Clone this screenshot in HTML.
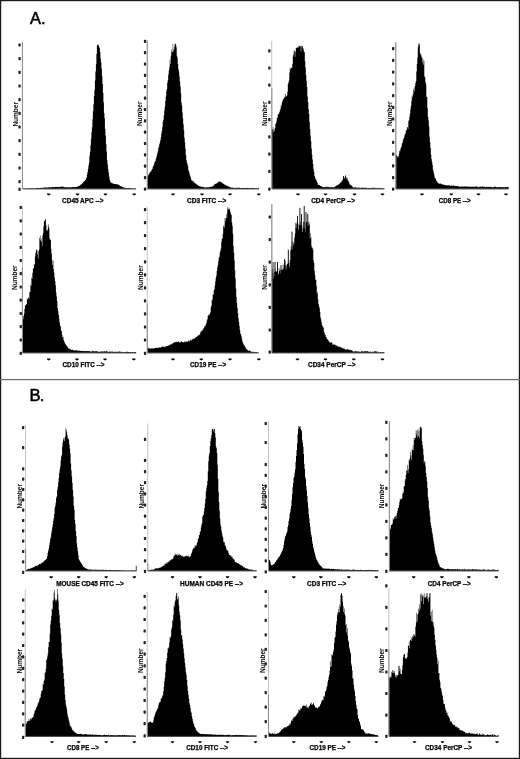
<!DOCTYPE html><html><head><meta charset="utf-8"><style>html,body{margin:0;padding:0;background:#fff;overflow:hidden}svg{display:block}text{font-family:"Liberation Sans",sans-serif}</style></head><body>
<svg width="520" height="759" viewBox="0 0 520 759" style="will-change:transform;filter:blur(0.3px)">
<rect x="0" y="0" width="520" height="759" fill="#fff"/>
<rect x="0.6" y="0.6" width="518.8" height="757.8" fill="none" stroke="#1a1a1a" stroke-width="1.2"/>
<rect x="0" y="379" width="520" height="1.2" fill="#6a6a6a"/>
<text x="30.1" y="23.7" font-size="16.4" fill="#000" stroke="#000" stroke-width="0.55">A.</text>
<text x="29.6" y="400.8" font-size="16.6" fill="#000" stroke="#000" stroke-width="0.55" letter-spacing="-1">B.</text>
<path d="M22.4,188.8L22.4,188.5L22.9,188.5L22.9,188.5L23.4,188.5L23.4,188.5L23.9,188.5L23.9,188.5L24.4,188.5L24.4,188.5L24.9,188.5L24.9,188.5L25.4,188.5L25.4,188.4L25.9,188.4L25.9,188.5L26.4,188.5L26.4,188.2L26.9,188.2L26.9,188.3L27.4,188.3L27.4,188.5L27.9,188.5L27.9,188.4L28.4,188.4L28.4,188.2L28.9,188.2L28.9,188.5L29.4,188.5L29.4,188.4L29.9,188.4L29.9,188.2L30.4,188.2L30.4,188.1L30.9,188.1L30.9,188.2L31.4,188.2L31.4,188.3L31.9,188.3L31.9,188.2L32.4,188.2L32.4,188.3L32.9,188.3L32.9,188.4L33.4,188.4L33.4,188.3L33.9,188.3L33.9,188.2L34.4,188.2L34.4,188.2L34.9,188.2L34.9,188.2L35.4,188.2L35.4,188.2L35.9,188.2L35.9,188.1L36.4,188.1L36.4,188.2L36.9,188.2L36.9,188.0L37.4,188.0L37.4,187.8L37.9,187.8L37.9,188.0L38.4,188.0L38.4,188.0L38.9,188.0L38.9,188.0L39.4,188.0L39.4,187.9L39.9,187.9L39.9,187.8L40.4,187.8L40.4,188.1L40.9,188.1L40.9,187.8L41.4,187.8L41.4,187.7L41.9,187.7L41.9,187.9L42.4,187.9L42.4,187.7L42.9,187.7L42.9,187.6L43.4,187.6L43.4,187.8L43.9,187.8L43.9,187.6L44.4,187.6L44.4,187.4L44.9,187.4L44.9,187.5L45.4,187.5L45.4,187.6L45.9,187.6L45.9,187.6L46.4,187.6L46.4,187.5L46.9,187.5L46.9,187.4L47.4,187.4L47.4,187.7L47.9,187.7L47.9,187.3L48.4,187.3L48.4,187.4L48.9,187.4L48.9,187.3L49.4,187.3L49.4,187.3L49.9,187.3L49.9,187.3L50.4,187.3L50.4,187.4L50.9,187.4L50.9,187.0L51.4,187.0L51.4,187.3L51.9,187.3L51.9,187.2L52.4,187.2L52.4,186.8L52.9,186.8L52.9,187.0L53.4,187.0L53.4,187.2L53.9,187.2L53.9,187.0L54.4,187.0L54.4,187.3L54.9,187.3L54.9,186.9L55.4,186.9L55.4,186.7L55.9,186.7L55.9,186.8L56.4,186.8L56.4,186.9L56.9,186.9L56.9,186.9L57.4,186.9L57.4,187.1L57.9,187.1L57.9,186.8L58.4,186.8L58.4,187.2L58.9,187.2L58.9,186.8L59.4,186.8L59.4,186.9L59.9,186.9L59.9,187.0L60.4,187.0L60.4,187.1L60.9,187.1L60.9,186.5L61.4,186.5L61.4,186.8L61.9,186.8L61.9,186.5L62.4,186.5L62.4,186.8L62.9,186.8L62.9,186.6L63.4,186.6L63.4,187.0L63.9,187.0L63.9,187.0L64.4,187.0L64.4,187.2L64.9,187.2L64.9,187.2L65.4,187.2L65.4,187.2L65.9,187.2L65.9,187.3L66.4,187.3L66.4,187.2L66.9,187.2L66.9,187.2L67.4,187.2L67.4,187.2L67.9,187.2L67.9,187.5L68.4,187.5L68.4,187.3L68.9,187.3L68.9,187.5L69.4,187.5L69.4,187.3L69.9,187.3L69.9,187.3L70.4,187.3L70.4,187.1L70.9,187.1L70.9,187.2L71.4,187.2L71.4,187.5L71.9,187.5L71.9,187.1L72.4,187.1L72.4,187.3L72.9,187.3L72.9,187.1L73.4,187.1L73.4,187.0L73.9,187.0L73.9,187.3L74.4,187.3L74.4,187.1L74.9,187.1L74.9,187.2L75.4,187.2L75.4,187.0L75.9,187.0L75.9,186.9L76.4,186.9L76.4,186.9L76.9,186.9L76.9,186.4L77.4,186.4L77.4,186.7L77.9,186.7L77.9,186.2L78.4,186.2L78.4,186.0L78.9,186.0L78.9,185.7L79.4,185.7L79.4,185.4L79.9,185.4L79.9,185.2L80.4,185.2L80.4,184.8L80.9,184.8L80.9,184.6L81.4,184.6L81.4,184.0L81.9,184.0L81.9,183.8L82.4,183.8L82.4,183.1L82.9,183.1L82.9,182.5L83.4,182.5L83.4,181.8L83.9,181.8L83.9,181.2L84.4,181.2L84.4,181.0L84.9,181.0L84.9,180.3L85.4,180.3L85.4,179.7L85.9,179.7L85.9,178.7L86.4,178.7L86.4,177.4L86.9,177.4L86.9,174.4L87.4,174.4L87.4,172.1L87.9,172.1L87.9,168.8L88.4,168.8L88.4,165.4L88.9,165.4L88.9,162.8L89.4,162.8L89.4,155.7L89.9,155.7L89.9,151.7L90.4,151.7L90.4,145.2L90.9,145.2L90.9,138.7L91.4,138.7L91.4,132.0L91.9,132.0L91.9,127.3L92.4,127.3L92.4,119.3L92.9,119.3L92.9,111.1L93.4,111.1L93.4,104.0L93.9,104.0L93.9,95.9L94.4,95.9L94.4,89.8L94.9,89.8L94.9,80.6L95.4,80.6L95.4,71.5L95.9,71.5L95.9,64.2L96.4,64.2L96.4,53.7L96.9,53.7L96.9,45.2L97.4,45.2L97.4,44.6L97.9,44.6L97.9,45.7L98.4,45.7L98.4,44.4L98.9,44.4L98.9,46.7L99.4,46.7L99.4,48.0L99.9,48.0L99.9,51.9L100.4,51.9L100.4,58.4L100.9,58.4L100.9,62.6L101.4,62.6L101.4,68.5L101.9,68.5L101.9,76.2L102.4,76.2L102.4,84.1L102.9,84.1L102.9,93.1L103.4,93.1L103.4,102.3L103.9,102.3L103.9,112.9L104.4,112.9L104.4,118.3L104.9,118.3L104.9,128.8L105.4,128.8L105.4,135.4L105.9,135.4L105.9,143.7L106.4,143.7L106.4,151.4L106.9,151.4L106.9,159.7L107.4,159.7L107.4,164.6L107.9,164.6L107.9,169.2L108.4,169.2L108.4,172.5L108.9,172.5L108.9,176.3L109.4,176.3L109.4,179.2L109.9,179.2L109.9,180.9L110.4,180.9L110.4,182.3L110.9,182.3L110.9,182.7L111.4,182.7L111.4,182.8L111.9,182.8L111.9,183.0L112.4,183.0L112.4,183.4L112.9,183.4L112.9,183.4L113.4,183.4L113.4,183.8L113.9,183.8L113.9,184.0L114.4,184.0L114.4,184.0L114.9,184.0L114.9,184.1L115.4,184.1L115.4,184.0L115.9,184.0L115.9,184.2L116.4,184.2L116.4,184.2L116.9,184.2L116.9,184.3L117.4,184.3L117.4,184.6L117.9,184.6L117.9,184.5L118.4,184.5L118.4,184.8L118.9,184.8L118.9,185.0L119.4,185.0L119.4,185.6L119.9,185.6L119.9,185.9L120.4,185.9L120.4,186.2L120.9,186.2L120.9,186.2L121.4,186.2L121.4,186.6L121.9,186.6L121.9,186.9L122.4,186.9L122.4,187.2L122.9,187.2L122.9,187.1L123.4,187.1L123.4,187.7L123.9,187.7L123.9,187.8L124.4,187.8L124.4,187.6L124.9,187.6L124.9,187.8L125.4,187.8L125.4,188.0L125.9,188.0L125.9,188.0L126.4,188.0L126.4,188.0L126.9,188.0L126.9,188.1L127.4,188.1L127.4,188.0L127.9,188.0L127.9,187.9L128.4,187.9L128.4,187.8L128.9,187.8L128.9,188.0L129.4,188.0L129.4,188.2L129.9,188.2L129.9,188.1L130.4,188.1L130.4,187.9L130.9,187.9L130.9,188.5L131.4,188.5L131.4,188.3L131.9,188.3L131.9,188.0L132.4,188.0L132.4,188.2L132.9,188.2L132.9,188.4L133.4,188.4L133.4,188.4L133.9,188.4L133.9,188.5L134.4,188.5L134.4,188.4L134.9,188.4L134.9,188.4L135.4,188.4L135.4,188.3L135.9,188.3L135.9,188.5L136.4,188.5L136.0,188.8Z" fill="#000"/>
<rect x="22.4" y="188.5" width="113.6" height="0.9" fill="#333"/>
<rect x="22.0" y="42.0" width="0.8" height="146.8" fill="#b4b4b4"/>
<rect x="21.9" y="42.0" width="0.9" height="146.8" fill="#858585"/>
<rect x="18.4" y="43.4" width="2.3" height="3.2" rx="0.7" fill="#222"/>
<rect x="18.4" y="57.1" width="2.3" height="3.2" rx="0.7" fill="#222"/>
<rect x="18.4" y="70.7" width="2.3" height="3.2" rx="0.7" fill="#222"/>
<rect x="18.4" y="84.4" width="2.3" height="3.2" rx="0.7" fill="#222"/>
<rect x="18.4" y="98.1" width="2.3" height="3.2" rx="0.7" fill="#222"/>
<rect x="18.4" y="111.8" width="2.3" height="3.2" rx="0.7" fill="#222"/>
<rect x="18.4" y="125.4" width="2.3" height="3.2" rx="0.7" fill="#222"/>
<rect x="18.4" y="139.1" width="2.3" height="3.2" rx="0.7" fill="#222"/>
<rect x="18.4" y="152.8" width="2.3" height="3.2" rx="0.7" fill="#222"/>
<rect x="18.4" y="166.4" width="2.3" height="3.2" rx="0.7" fill="#222"/>
<rect x="18.4" y="180.1" width="2.3" height="3.2" rx="0.7" fill="#222"/>
<rect x="18.4" y="187.8" width="2.3" height="3.2" rx="0.7" fill="#222"/>
<path d="M47.0,193.5h3.4v0.9l-1.7,1.2l-1.7,-1.2z" fill="#000"/>
<path d="M75.8,193.5h3.4v0.9l-1.7,1.2l-1.7,-1.2z" fill="#000"/>
<path d="M103.7,193.5h3.4v0.9l-1.7,1.2l-1.7,-1.2z" fill="#000"/>
<path d="M132.5,193.5h3.4v0.9l-1.7,1.2l-1.7,-1.2z" fill="#000"/>
<text x="62.1" y="203.2" font-size="6.6" font-weight="bold" fill="#000" stroke="#000" stroke-width="0.25" textLength="41.4" lengthAdjust="spacingAndGlyphs">CD45 APC --&gt;</text>
<text transform="translate(17.6,114.3) rotate(-90)" x="0" y="0" font-size="7.8" font-weight="bold" fill="#000" text-anchor="middle" textLength="24.6" lengthAdjust="spacingAndGlyphs">Number</text>
<path d="M147.2,188.8L147.2,176.4L147.7,176.4L147.7,175.9L148.2,175.9L148.2,174.9L148.7,174.9L148.7,173.9L149.2,173.9L149.2,173.4L149.7,173.4L149.7,172.3L150.2,172.3L150.2,171.8L150.7,171.8L150.7,171.5L151.2,171.5L151.2,170.4L151.7,170.4L151.7,169.4L152.2,169.4L152.2,168.7L152.7,168.7L152.7,166.8L153.2,166.8L153.2,166.1L153.7,166.1L153.7,164.5L154.2,164.5L154.2,162.7L154.7,162.7L154.7,161.5L155.2,161.5L155.2,161.1L155.7,161.1L155.7,158.8L156.2,158.8L156.2,157.3L156.7,157.3L156.7,155.3L157.2,155.3L157.2,153.1L157.7,153.1L157.7,151.2L158.2,151.2L158.2,148.0L158.7,148.0L158.7,146.6L159.2,146.6L159.2,144.2L159.7,144.2L159.7,142.6L160.2,142.6L160.2,140.3L160.7,140.3L160.7,137.4L161.2,137.4L161.2,133.4L161.7,133.4L161.7,131.0L162.2,131.0L162.2,126.9L162.7,126.9L162.7,122.1L163.2,122.1L163.2,119.8L163.7,119.8L163.7,115.6L164.2,115.6L164.2,110.6L164.7,110.6L164.7,106.4L165.2,106.4L165.2,100.9L165.7,100.9L165.7,96.5L166.2,96.5L166.2,91.3L166.7,91.3L166.7,89.0L167.2,89.0L167.2,82.4L167.7,82.4L167.7,80.0L168.2,80.0L168.2,74.6L168.7,74.6L168.7,70.4L169.2,70.4L169.2,67.3L169.7,67.3L169.7,59.7L170.2,59.7L170.2,64.0L170.7,64.0L170.7,56.3L171.2,56.3L171.2,49.4L171.7,49.4L171.7,52.3L172.2,52.3L172.2,51.9L172.7,51.9L172.7,43.8L173.2,43.8L173.2,51.0L173.7,51.0L173.7,49.2L174.2,49.2L174.2,47.0L174.7,47.0L174.7,43.8L175.2,43.8L175.2,43.8L175.7,43.8L175.7,44.7L176.2,44.7L176.2,47.3L176.7,47.3L176.7,55.7L177.2,55.7L177.2,57.5L177.7,57.5L177.7,64.0L178.2,64.0L178.2,69.1L178.7,69.1L178.7,71.6L179.2,71.6L179.2,76.4L179.7,76.4L179.7,81.6L180.2,81.6L180.2,86.6L180.7,86.6L180.7,93.2L181.2,93.2L181.2,102.4L181.7,102.4L181.7,105.6L182.2,105.6L182.2,112.5L182.7,112.5L182.7,118.4L183.2,118.4L183.2,124.3L183.7,124.3L183.7,130.2L184.2,130.2L184.2,137.7L184.7,137.7L184.7,142.6L185.2,142.6L185.2,148.6L185.7,148.6L185.7,155.0L186.2,155.0L186.2,160.1L186.7,160.1L186.7,162.6L187.2,162.6L187.2,163.9L187.7,163.9L187.7,166.3L188.2,166.3L188.2,170.0L188.7,170.0L188.7,171.3L189.2,171.3L189.2,173.2L189.7,173.2L189.7,175.3L190.2,175.3L190.2,176.4L190.7,176.4L190.7,178.2L191.2,178.2L191.2,180.4L191.7,180.4L191.7,180.1L192.2,180.1L192.2,180.9L192.7,180.9L192.7,181.4L193.2,181.4L193.2,181.1L193.7,181.1L193.7,182.3L194.2,182.3L194.2,182.7L194.7,182.7L194.7,182.9L195.2,182.9L195.2,183.6L195.7,183.6L195.7,183.7L196.2,183.7L196.2,184.2L196.7,184.2L196.7,184.8L197.2,184.8L197.2,184.8L197.7,184.8L197.7,185.1L198.2,185.1L198.2,185.9L198.7,185.9L198.7,186.1L199.2,186.1L199.2,186.1L199.7,186.1L199.7,186.7L200.2,186.7L200.2,186.5L200.7,186.5L200.7,186.2L201.2,186.2L201.2,187.0L201.7,187.0L201.7,186.9L202.2,186.9L202.2,187.3L202.7,187.3L202.7,186.5L203.2,186.5L203.2,187.0L203.7,187.0L203.7,187.1L204.2,187.1L204.2,187.4L204.7,187.4L204.7,187.7L205.2,187.7L205.2,187.5L205.7,187.5L205.7,187.1L206.2,187.1L206.2,187.4L206.7,187.4L206.7,187.3L207.2,187.3L207.2,187.2L207.7,187.2L207.7,187.2L208.2,187.2L208.2,187.2L208.7,187.2L208.7,187.3L209.2,187.3L209.2,187.3L209.7,187.3L209.7,187.0L210.2,187.0L210.2,187.1L210.7,187.1L210.7,187.1L211.2,187.1L211.2,186.8L211.7,186.8L211.7,186.3L212.2,186.3L212.2,186.4L212.7,186.4L212.7,186.2L213.2,186.2L213.2,185.7L213.7,185.7L213.7,185.3L214.2,185.3L214.2,184.6L214.7,184.6L214.7,184.0L215.2,184.0L215.2,184.1L215.7,184.1L215.7,183.6L216.2,183.6L216.2,183.7L216.7,183.7L216.7,183.0L217.2,183.0L217.2,183.0L217.7,183.0L217.7,182.0L218.2,182.0L218.2,181.7L218.7,181.7L218.7,181.5L219.2,181.5L219.2,181.7L219.7,181.7L219.7,181.6L220.2,181.6L220.2,181.7L220.7,181.7L220.7,182.3L221.2,182.3L221.2,182.0L221.7,182.0L221.7,182.8L222.2,182.8L222.2,183.3L222.7,183.3L222.7,183.5L223.2,183.5L223.2,183.8L223.7,183.8L223.7,184.3L224.2,184.3L224.2,184.7L224.7,184.7L224.7,184.3L225.2,184.3L225.2,185.0L225.7,185.0L225.7,185.2L226.2,185.2L226.2,185.8L226.7,185.8L226.7,185.7L227.2,185.7L227.2,185.8L227.7,185.8L227.7,186.5L228.2,186.5L228.2,186.2L228.7,186.2L228.7,186.6L229.2,186.6L229.2,187.3L229.7,187.3L229.7,187.0L230.2,187.0L230.2,187.4L230.7,187.4L230.7,187.0L231.2,187.0L231.2,188.0L231.7,188.0L231.7,187.6L232.2,187.6L232.2,187.8L232.7,187.8L232.7,187.3L233.2,187.3L233.2,188.0L233.7,188.0L233.7,187.9L234.2,187.9L234.2,187.9L234.7,187.9L234.7,187.9L235.2,187.9L235.2,187.8L235.7,187.8L235.7,187.7L236.2,187.7L236.2,188.3L236.7,188.3L236.7,187.4L237.2,187.4L237.2,187.8L237.7,187.8L237.7,188.0L238.2,188.0L238.2,187.8L238.7,187.8L238.7,187.6L239.2,187.6L239.2,187.8L239.7,187.8L239.7,188.3L240.2,188.3L240.2,187.9L240.7,187.9L240.7,187.9L241.2,187.9L241.2,188.1L241.7,188.1L241.7,188.0L242.2,188.0L242.2,188.0L242.7,188.0L242.7,187.8L243.2,187.8L243.2,187.9L243.7,187.9L243.7,188.1L244.2,188.1L244.2,187.9L244.7,187.9L244.7,187.8L245.2,187.8L245.2,188.0L245.7,188.0L245.7,188.1L246.2,188.1L246.2,188.1L246.7,188.1L246.7,187.9L247.2,187.9L247.2,187.9L247.7,187.9L247.7,187.5L248.2,187.5L248.2,188.5L248.7,188.5L248.7,188.0L249.2,188.0L249.2,187.9L249.7,187.9L249.7,187.9L250.2,187.9L250.2,188.0L250.7,188.0L250.7,188.2L251.2,188.2L251.2,188.1L251.7,188.1L251.7,188.0L252.2,188.0L252.2,188.3L252.7,188.3L252.7,187.7L253.2,187.7L253.2,188.1L253.7,188.1L253.7,188.0L254.2,188.0L254.2,188.2L254.7,188.2L254.7,188.2L255.2,188.2L255.2,188.3L255.7,188.3L255.7,188.2L256.2,188.2L256.2,188.3L256.7,188.3L256.7,188.3L257.2,188.3L257.2,188.3L257.7,188.3L257.7,188.3L258.2,188.3L258.2,187.8L258.7,187.8L258.7,188.2L259.2,188.2L259.0,188.8Z" fill="#000"/>
<rect x="147.2" y="188.5" width="111.8" height="0.9" fill="#333"/>
<rect x="146.8" y="40.5" width="0.8" height="148.3" fill="#b4b4b4"/>
<rect x="146.8" y="40.5" width="0.9" height="148.3" fill="#858585"/>
<rect x="143.9" y="39.7" width="2.3" height="3.2" rx="0.7" fill="#222"/>
<rect x="143.9" y="51.1" width="2.3" height="3.2" rx="0.7" fill="#222"/>
<rect x="143.9" y="62.4" width="2.3" height="3.2" rx="0.7" fill="#222"/>
<rect x="143.9" y="73.8" width="2.3" height="3.2" rx="0.7" fill="#222"/>
<rect x="143.9" y="85.1" width="2.3" height="3.2" rx="0.7" fill="#222"/>
<rect x="143.9" y="96.5" width="2.3" height="3.2" rx="0.7" fill="#222"/>
<rect x="143.9" y="107.9" width="2.3" height="3.2" rx="0.7" fill="#222"/>
<rect x="143.9" y="119.2" width="2.3" height="3.2" rx="0.7" fill="#222"/>
<rect x="143.9" y="130.6" width="2.3" height="3.2" rx="0.7" fill="#222"/>
<rect x="143.9" y="141.9" width="2.3" height="3.2" rx="0.7" fill="#222"/>
<rect x="143.9" y="153.3" width="2.3" height="3.2" rx="0.7" fill="#222"/>
<rect x="143.9" y="164.6" width="2.3" height="3.2" rx="0.7" fill="#222"/>
<rect x="143.9" y="176.0" width="2.3" height="3.2" rx="0.7" fill="#222"/>
<rect x="143.9" y="187.6" width="2.3" height="3.2" rx="0.7" fill="#222"/>
<path d="M171.3,193.5h3.4v0.9l-1.7,1.2l-1.7,-1.2z" fill="#000"/>
<path d="M200.3,193.5h3.4v0.9l-1.7,1.2l-1.7,-1.2z" fill="#000"/>
<path d="M228.3,193.5h3.4v0.9l-1.7,1.2l-1.7,-1.2z" fill="#000"/>
<path d="M257.1,193.5h3.4v0.9l-1.7,1.2l-1.7,-1.2z" fill="#000"/>
<text x="187.0" y="203.2" font-size="6.6" font-weight="bold" fill="#000" stroke="#000" stroke-width="0.25" textLength="39.2" lengthAdjust="spacingAndGlyphs">CD3 FITC --&gt;</text>
<text transform="translate(142.4,113.8) rotate(-90)" x="0" y="0" font-size="7.8" font-weight="bold" fill="#000" text-anchor="middle" textLength="24.6" lengthAdjust="spacingAndGlyphs">Number</text>
<path d="M271.8,188.8L271.8,129.4L272.3,129.4L272.3,129.3L272.8,129.3L272.8,127.0L273.3,127.0L273.3,131.9L273.8,131.9L273.8,129.1L274.3,129.1L274.3,131.1L274.8,131.1L274.8,128.0L275.3,128.0L275.3,124.1L275.8,124.1L275.8,123.3L276.3,123.3L276.3,121.3L276.8,121.3L276.8,118.0L277.3,118.0L277.3,117.6L277.8,117.6L277.8,114.5L278.3,114.5L278.3,113.9L278.8,113.9L278.8,113.4L279.3,113.4L279.3,111.9L279.8,111.9L279.8,109.9L280.3,109.9L280.3,108.7L280.8,108.7L280.8,104.7L281.3,104.7L281.3,106.3L281.8,106.3L281.8,102.4L282.3,102.4L282.3,100.7L282.8,100.7L282.8,99.6L283.3,99.6L283.3,98.8L283.8,98.8L283.8,98.5L284.3,98.5L284.3,97.2L284.8,97.2L284.8,96.4L285.3,96.4L285.3,93.8L285.8,93.8L285.8,96.9L286.3,96.9L286.3,96.1L286.8,96.1L286.8,95.4L287.3,95.4L287.3,91.7L287.8,91.7L287.8,84.2L288.3,84.2L288.3,82.6L288.8,82.6L288.8,80.4L289.3,80.4L289.3,72.8L289.8,72.8L289.8,67.8L290.3,67.8L290.3,69.6L290.8,69.6L290.8,68.2L291.3,68.2L291.3,68.0L291.8,68.0L291.8,67.5L292.3,67.5L292.3,64.0L292.8,64.0L292.8,56.5L293.3,56.5L293.3,54.3L293.8,54.3L293.8,50.4L294.3,50.4L294.3,51.0L294.8,51.0L294.8,56.8L295.3,56.8L295.3,51.7L295.8,51.7L295.8,48.2L296.3,48.2L296.3,48.1L296.8,48.1L296.8,47.6L297.3,47.6L297.3,47.4L297.8,47.4L297.8,46.7L298.3,46.7L298.3,47.5L298.8,47.5L298.8,45.7L299.3,45.7L299.3,46.2L299.8,46.2L299.8,45.7L300.3,45.7L300.3,46.5L300.8,46.5L300.8,51.4L301.3,51.4L301.3,45.7L301.8,45.7L301.8,46.4L302.3,46.4L302.3,46.0L302.8,46.0L302.8,47.9L303.3,47.9L303.3,49.6L303.8,49.6L303.8,52.5L304.3,52.5L304.3,51.8L304.8,51.8L304.8,61.3L305.3,61.3L305.3,67.6L305.8,67.6L305.8,75.1L306.3,75.1L306.3,81.0L306.8,81.0L306.8,87.0L307.3,87.0L307.3,96.6L307.8,96.6L307.8,102.0L308.3,102.0L308.3,108.9L308.8,108.9L308.8,114.0L309.3,114.0L309.3,122.0L309.8,122.0L309.8,128.9L310.3,128.9L310.3,135.5L310.8,135.5L310.8,141.3L311.3,141.3L311.3,148.5L311.8,148.5L311.8,154.5L312.3,154.5L312.3,159.6L312.8,159.6L312.8,164.1L313.3,164.1L313.3,168.9L313.8,168.9L313.8,171.9L314.3,171.9L314.3,176.1L314.8,176.1L314.8,177.1L315.3,177.1L315.3,178.9L315.8,178.9L315.8,179.4L316.3,179.4L316.3,180.7L316.8,180.7L316.8,181.8L317.3,181.8L317.3,182.9L317.8,182.9L317.8,184.9L318.3,184.9L318.3,184.7L318.8,184.7L318.8,185.1L319.3,185.1L319.3,185.1L319.8,185.1L319.8,185.7L320.3,185.7L320.3,186.0L320.8,186.0L320.8,185.9L321.3,185.9L321.3,186.4L321.8,186.4L321.8,186.9L322.3,186.9L322.3,186.8L322.8,186.8L322.8,187.1L323.3,187.1L323.3,187.2L323.8,187.2L323.8,187.1L324.3,187.1L324.3,187.6L324.8,187.6L324.8,186.7L325.3,186.7L325.3,187.1L325.8,187.1L325.8,187.3L326.3,187.3L326.3,187.1L326.8,187.1L326.8,186.5L327.3,186.5L327.3,187.3L327.8,187.3L327.8,187.0L328.3,187.0L328.3,187.3L328.8,187.3L328.8,186.6L329.3,186.6L329.3,187.4L329.8,187.4L329.8,187.0L330.3,187.0L330.3,187.4L330.8,187.4L330.8,187.6L331.3,187.6L331.3,186.8L331.8,186.8L331.8,187.3L332.3,187.3L332.3,187.0L332.8,187.0L332.8,187.4L333.3,187.4L333.3,187.3L333.8,187.3L333.8,187.2L334.3,187.2L334.3,187.3L334.8,187.3L334.8,186.5L335.3,186.5L335.3,186.3L335.8,186.3L335.8,185.9L336.3,185.9L336.3,185.2L336.8,185.2L336.8,185.8L337.3,185.8L337.3,184.9L337.8,184.9L337.8,185.0L338.3,185.0L338.3,184.4L338.8,184.4L338.8,183.9L339.3,183.9L339.3,183.7L339.8,183.7L339.8,183.1L340.3,183.1L340.3,182.8L340.8,182.8L340.8,182.3L341.3,182.3L341.3,181.5L341.8,181.5L341.8,180.9L342.3,180.9L342.3,180.1L342.8,180.1L342.8,179.1L343.3,179.1L343.3,178.4L343.8,178.4L343.8,178.3L344.3,178.3L344.3,177.3L344.8,177.3L344.8,179.0L345.3,179.0L345.3,178.5L345.8,178.5L345.8,178.6L346.3,178.6L346.3,178.8L346.8,178.8L346.8,180.0L347.3,180.0L347.3,180.2L347.8,180.2L347.8,180.2L348.3,180.2L348.3,181.7L348.8,181.7L348.8,182.0L349.3,182.0L349.3,183.9L349.8,183.9L349.8,184.8L350.3,184.8L350.3,185.0L350.8,185.0L350.8,185.3L351.3,185.3L351.3,185.6L351.8,185.6L351.8,186.3L352.3,186.3L352.3,186.5L352.8,186.5L352.8,187.2L353.3,187.2L353.3,187.8L353.8,187.8L353.8,187.7L354.3,187.7L354.3,187.3L354.8,187.3L354.8,187.1L355.3,187.1L355.3,187.6L355.8,187.6L355.8,187.6L356.3,187.6L356.3,187.6L356.8,187.6L356.8,188.1L357.3,188.1L357.3,187.7L357.8,187.7L357.8,187.6L358.3,187.6L358.3,187.8L358.8,187.8L358.8,187.7L359.3,187.7L359.3,187.8L359.8,187.8L359.8,187.6L360.3,187.6L360.3,188.3L360.8,188.3L360.8,187.8L361.3,187.8L361.3,187.9L361.8,187.9L361.8,187.5L362.3,187.5L362.3,187.4L362.8,187.4L362.8,187.7L363.3,187.7L363.3,188.0L363.8,188.0L363.8,187.3L364.3,187.3L364.3,188.0L364.8,188.0L364.8,187.8L365.3,187.8L365.3,187.7L365.8,187.7L365.8,187.9L366.3,187.9L366.3,187.6L366.8,187.6L366.8,188.1L367.3,188.1L367.3,188.5L367.8,188.5L367.8,188.0L368.3,188.0L368.3,188.1L368.8,188.1L368.8,188.0L369.3,188.0L369.3,188.1L369.8,188.1L369.8,188.0L370.3,188.0L370.3,188.2L370.8,188.2L370.8,187.9L371.3,187.9L371.3,187.5L371.8,187.5L371.8,188.3L372.3,188.3L372.3,188.0L372.8,188.0L372.8,187.8L373.3,187.8L373.3,187.6L373.8,187.6L373.8,188.3L374.3,188.3L374.3,187.6L374.8,187.6L374.8,188.1L375.3,188.1L375.3,188.0L375.8,188.0L375.8,188.5L376.3,188.5L376.3,187.8L376.8,187.8L376.8,188.3L377.3,188.3L377.3,188.5L377.8,188.5L377.8,188.2L378.3,188.2L378.3,187.8L378.8,187.8L378.8,188.2L379.3,188.2L379.3,188.1L379.8,188.1L379.8,187.8L380.3,187.8L380.3,188.5L380.8,188.5L380.8,188.1L381.3,188.1L381.3,188.3L381.8,188.3L381.8,188.4L382.3,188.4L382.3,187.9L382.8,187.9L382.8,188.5L383.3,188.5L383.3,187.9L383.8,187.9L383.8,188.5L384.3,188.5L384.3,188.2L384.8,188.2L384.4,188.8Z" fill="#000"/>
<rect x="343.05" y="176.0" width="0.9" height="12.8" fill="#000"/>
<rect x="345.15" y="175.5" width="0.9" height="13.3" fill="#000"/>
<rect x="346.55" y="177.5" width="0.9" height="11.3" fill="#000"/>
<rect x="271.8" y="188.5" width="112.6" height="0.9" fill="#333"/>
<rect x="271.4" y="40.8" width="0.8" height="148.0" fill="#b4b4b4"/>
<rect x="271.4" y="88.0" width="0.9" height="100.8" fill="#858585"/>
<rect x="268.2" y="49.2" width="2.3" height="3.2" rx="0.7" fill="#222"/>
<rect x="268.2" y="66.4" width="2.3" height="3.2" rx="0.7" fill="#222"/>
<rect x="268.2" y="83.6" width="2.3" height="3.2" rx="0.7" fill="#222"/>
<rect x="268.2" y="100.8" width="2.3" height="3.2" rx="0.7" fill="#222"/>
<rect x="268.2" y="118.1" width="2.3" height="3.2" rx="0.7" fill="#222"/>
<rect x="268.2" y="135.3" width="2.3" height="3.2" rx="0.7" fill="#222"/>
<rect x="268.2" y="152.5" width="2.3" height="3.2" rx="0.7" fill="#222"/>
<rect x="268.2" y="169.7" width="2.3" height="3.2" rx="0.7" fill="#222"/>
<rect x="268.2" y="187.6" width="2.3" height="3.2" rx="0.7" fill="#222"/>
<path d="M296.3,193.5h3.4v0.9l-1.7,1.2l-1.7,-1.2z" fill="#000"/>
<path d="M323.8,193.5h3.4v0.9l-1.7,1.2l-1.7,-1.2z" fill="#000"/>
<path d="M352.8,193.5h3.4v0.9l-1.7,1.2l-1.7,-1.2z" fill="#000"/>
<path d="M380.8,193.5h3.4v0.9l-1.7,1.2l-1.7,-1.2z" fill="#000"/>
<text x="311.2" y="203.2" font-size="6.6" font-weight="bold" fill="#000" stroke="#000" stroke-width="0.25" textLength="43.8" lengthAdjust="spacingAndGlyphs">CD4 PerCP --&gt;</text>
<text transform="translate(267.1,113.8) rotate(-90)" x="0" y="0" font-size="7.8" font-weight="bold" fill="#000" text-anchor="middle" textLength="24.6" lengthAdjust="spacingAndGlyphs">Number</text>
<path d="M395.8,188.8L395.8,155.2L396.3,155.2L396.3,154.8L396.8,154.8L396.8,156.1L397.3,156.1L397.3,156.5L397.8,156.5L397.8,157.6L398.3,157.6L398.3,156.1L398.8,156.1L398.8,153.7L399.3,153.7L399.3,150.7L399.8,150.7L399.8,151.3L400.3,151.3L400.3,148.7L400.8,148.7L400.8,147.6L401.3,147.6L401.3,146.3L401.8,146.3L401.8,143.4L402.3,143.4L402.3,142.7L402.8,142.7L402.8,140.2L403.3,140.2L403.3,138.4L403.8,138.4L403.8,138.1L404.3,138.1L404.3,135.4L404.8,135.4L404.8,134.3L405.3,134.3L405.3,133.2L405.8,133.2L405.8,130.8L406.3,130.8L406.3,129.9L406.8,129.9L406.8,127.4L407.3,127.4L407.3,127.1L407.8,127.1L407.8,128.9L408.3,128.9L408.3,121.3L408.8,121.3L408.8,120.1L409.3,120.1L409.3,116.7L409.8,116.7L409.8,113.4L410.3,113.4L410.3,109.2L410.8,109.2L410.8,106.1L411.3,106.1L411.3,101.3L411.8,101.3L411.8,95.7L412.3,95.7L412.3,97.4L412.8,97.4L412.8,94.1L413.3,94.1L413.3,89.8L413.8,89.8L413.8,87.8L414.3,87.8L414.3,91.4L414.8,91.4L414.8,86.0L415.3,86.0L415.3,83.0L415.8,83.0L415.8,81.1L416.3,81.1L416.3,71.4L416.8,71.4L416.8,64.0L417.3,64.0L417.3,57.4L417.8,57.4L417.8,47.2L418.3,47.2L418.3,43.5L418.8,43.5L418.8,45.0L419.3,45.0L419.3,43.6L419.8,43.6L419.8,52.8L420.3,52.8L420.3,54.6L420.8,54.6L420.8,54.6L421.3,54.6L421.3,57.6L421.8,57.6L421.8,56.7L422.3,56.7L422.3,62.4L422.8,62.4L422.8,59.1L423.3,59.1L423.3,64.7L423.8,64.7L423.8,60.8L424.3,60.8L424.3,76.5L424.8,76.5L424.8,77.3L425.3,77.3L425.3,82.3L425.8,82.3L425.8,84.6L426.3,84.6L426.3,96.7L426.8,96.7L426.8,96.9L427.3,96.9L427.3,108.0L427.8,108.0L427.8,117.0L428.3,117.0L428.3,120.6L428.8,120.6L428.8,126.4L429.3,126.4L429.3,136.8L429.8,136.8L429.8,142.1L430.3,142.1L430.3,148.0L430.8,148.0L430.8,154.6L431.3,154.6L431.3,158.9L431.8,158.9L431.8,162.0L432.3,162.0L432.3,164.9L432.8,164.9L432.8,169.5L433.3,169.5L433.3,171.7L433.8,171.7L433.8,174.1L434.3,174.1L434.3,176.5L434.8,176.5L434.8,178.4L435.3,178.4L435.3,178.2L435.8,178.2L435.8,179.7L436.3,179.7L436.3,181.1L436.8,181.1L436.8,181.4L437.3,181.4L437.3,182.3L437.8,182.3L437.8,183.1L438.3,183.1L438.3,183.5L438.8,183.5L438.8,183.4L439.3,183.4L439.3,183.7L439.8,183.7L439.8,183.4L440.3,183.4L440.3,183.5L440.8,183.5L440.8,183.7L441.3,183.7L441.3,184.2L441.8,184.2L441.8,184.2L442.3,184.2L442.3,184.2L442.8,184.2L442.8,184.4L443.3,184.4L443.3,184.7L443.8,184.7L443.8,184.8L444.3,184.8L444.3,185.1L444.8,185.1L444.8,185.0L445.3,185.0L445.3,185.1L445.8,185.1L445.8,185.5L446.3,185.5L446.3,185.2L446.8,185.2L446.8,185.8L447.3,185.8L447.3,185.1L447.8,185.1L447.8,185.2L448.3,185.2L448.3,185.3L448.8,185.3L448.8,185.0L449.3,185.0L449.3,185.3L449.8,185.3L449.8,186.0L450.3,186.0L450.3,185.6L450.8,185.6L450.8,185.8L451.3,185.8L451.3,185.5L451.8,185.5L451.8,185.6L452.3,185.6L452.3,185.9L452.8,185.9L452.8,185.9L453.3,185.9L453.3,185.2L453.8,185.2L453.8,185.6L454.3,185.6L454.3,185.9L454.8,185.9L454.8,186.2L455.3,186.2L455.3,185.8L455.8,185.8L455.8,186.1L456.3,186.1L456.3,186.2L456.8,186.2L456.8,186.0L457.3,186.0L457.3,185.7L457.8,185.7L457.8,186.4L458.3,186.4L458.3,186.4L458.8,186.4L458.8,186.4L459.3,186.4L459.3,186.6L459.8,186.6L459.8,186.7L460.3,186.7L460.3,186.7L460.8,186.7L460.8,186.6L461.3,186.6L461.3,186.4L461.8,186.4L461.8,186.5L462.3,186.5L462.3,186.4L462.8,186.4L462.8,186.8L463.3,186.8L463.3,186.4L463.8,186.4L463.8,186.5L464.3,186.5L464.3,186.5L464.8,186.5L464.8,186.4L465.3,186.4L465.3,186.8L465.8,186.8L465.8,186.1L466.3,186.1L466.3,186.5L466.8,186.5L466.8,186.8L467.3,186.8L467.3,186.7L467.8,186.7L467.8,186.7L468.3,186.7L468.3,186.5L468.8,186.5L468.8,186.6L469.3,186.6L469.3,186.8L469.8,186.8L469.8,186.8L470.3,186.8L470.3,187.1L470.8,187.1L470.8,186.8L471.3,186.8L471.3,186.8L471.8,186.8L471.8,186.8L472.3,186.8L472.3,186.7L472.8,186.7L472.8,186.8L473.3,186.8L473.3,186.6L473.8,186.6L473.8,186.8L474.3,186.8L474.3,186.9L474.8,186.9L474.8,186.7L475.3,186.7L475.3,186.6L475.8,186.6L475.8,186.5L476.3,186.5L476.3,186.3L476.8,186.3L476.8,186.8L477.3,186.8L477.3,186.9L477.8,186.9L477.8,186.6L478.3,186.6L478.3,187.4L478.8,187.4L478.8,186.9L479.3,186.9L479.3,186.7L479.8,186.7L479.8,187.1L480.3,187.1L480.3,186.2L480.8,186.2L480.8,186.9L481.3,186.9L481.3,187.1L481.8,187.1L481.8,186.2L482.3,186.2L482.3,186.3L482.8,186.3L482.8,186.8L483.3,186.8L483.3,186.7L483.8,186.7L483.8,186.7L484.3,186.7L484.3,187.1L484.8,187.1L484.8,186.7L485.3,186.7L485.3,187.5L485.8,187.5L485.8,186.3L486.3,186.3L486.3,187.0L486.8,187.0L486.8,187.1L487.3,187.1L487.3,187.0L487.8,187.0L487.8,187.0L488.3,187.0L488.3,186.9L488.8,186.9L488.8,186.8L489.3,186.8L489.3,186.9L489.8,186.9L489.8,187.2L490.3,187.2L490.3,186.8L490.8,186.8L490.8,187.0L491.3,187.0L491.3,186.9L491.8,186.9L491.8,186.9L492.3,186.9L492.3,187.5L492.8,187.5L492.8,187.6L493.3,187.6L493.3,186.7L493.8,186.7L493.8,187.1L494.3,187.1L494.3,186.6L494.8,186.6L494.8,187.1L495.3,187.1L495.3,186.5L495.8,186.5L495.8,187.1L496.3,187.1L496.3,187.2L496.8,187.2L496.8,187.2L497.3,187.2L497.3,187.1L497.8,187.1L497.8,187.5L498.3,187.5L498.3,187.0L498.8,187.0L498.8,187.2L499.3,187.2L499.3,186.9L499.8,186.9L499.8,187.0L500.3,187.0L500.3,187.1L500.8,187.1L500.8,187.2L501.3,187.2L501.3,187.0L501.8,187.0L501.8,187.3L502.3,187.3L502.3,187.3L502.8,187.3L502.8,187.2L503.3,187.2L503.3,187.1L503.8,187.1L503.8,187.1L504.3,187.1L504.3,187.6L504.8,187.6L504.8,187.2L505.3,187.2L505.3,187.0L505.8,187.0L505.8,186.9L506.3,186.9L506.3,187.3L506.8,187.3L506.8,187.0L507.3,187.0L507.3,187.3L507.8,187.3L507.8,187.0L508.3,187.0L508.3,187.2L508.8,187.2L508.7,188.8Z" fill="#000"/>
<rect x="395.8" y="188.5" width="112.9" height="0.9" fill="#333"/>
<rect x="395.4" y="42.0" width="0.8" height="146.8" fill="#b4b4b4"/>
<rect x="395.4" y="42.0" width="0.9" height="146.8" fill="#858585"/>
<rect x="392.0" y="47.1" width="2.3" height="3.2" rx="0.7" fill="#222"/>
<rect x="392.0" y="58.8" width="2.3" height="3.2" rx="0.7" fill="#222"/>
<rect x="392.0" y="70.5" width="2.3" height="3.2" rx="0.7" fill="#222"/>
<rect x="392.0" y="82.3" width="2.3" height="3.2" rx="0.7" fill="#222"/>
<rect x="392.0" y="94.0" width="2.3" height="3.2" rx="0.7" fill="#222"/>
<rect x="392.0" y="105.7" width="2.3" height="3.2" rx="0.7" fill="#222"/>
<rect x="392.0" y="117.4" width="2.3" height="3.2" rx="0.7" fill="#222"/>
<rect x="392.0" y="129.1" width="2.3" height="3.2" rx="0.7" fill="#222"/>
<rect x="392.0" y="140.8" width="2.3" height="3.2" rx="0.7" fill="#222"/>
<rect x="392.0" y="152.6" width="2.3" height="3.2" rx="0.7" fill="#222"/>
<rect x="392.0" y="164.3" width="2.3" height="3.2" rx="0.7" fill="#222"/>
<rect x="392.0" y="176.0" width="2.3" height="3.2" rx="0.7" fill="#222"/>
<rect x="392.0" y="187.6" width="2.3" height="3.2" rx="0.7" fill="#222"/>
<path d="M420.3,193.5h3.4v0.9l-1.7,1.2l-1.7,-1.2z" fill="#000"/>
<path d="M449.6,193.5h3.4v0.9l-1.7,1.2l-1.7,-1.2z" fill="#000"/>
<path d="M476.8,193.5h3.4v0.9l-1.7,1.2l-1.7,-1.2z" fill="#000"/>
<path d="M504.3,193.5h3.4v0.9l-1.7,1.2l-1.7,-1.2z" fill="#000"/>
<text x="438.8" y="203.2" font-size="6.6" font-weight="bold" fill="#000" stroke="#000" stroke-width="0.25" textLength="31.8" lengthAdjust="spacingAndGlyphs">CD8 PE --&gt;</text>
<text transform="translate(391.9,113.8) rotate(-90)" x="0" y="0" font-size="7.8" font-weight="bold" fill="#000" text-anchor="middle" textLength="24.6" lengthAdjust="spacingAndGlyphs">Number</text>
<path d="M22.4,352.8L22.4,321.7L22.9,321.7L22.9,319.3L23.4,319.3L23.4,316.1L23.9,316.1L23.9,313.8L24.4,313.8L24.4,309.0L24.9,309.0L24.9,305.9L25.4,305.9L25.4,304.9L25.9,304.9L25.9,304.2L26.4,304.2L26.4,304.3L26.9,304.3L26.9,298.5L27.4,298.5L27.4,299.6L27.9,299.6L27.9,298.3L28.4,298.3L28.4,297.0L28.9,297.0L28.9,299.0L29.4,299.0L29.4,291.7L29.9,291.7L29.9,291.9L30.4,291.9L30.4,284.8L30.9,284.8L30.9,286.0L31.4,286.0L31.4,277.4L31.9,277.4L31.9,278.7L32.4,278.7L32.4,272.7L32.9,272.7L32.9,268.6L33.4,268.6L33.4,268.5L33.9,268.5L33.9,264.0L34.4,264.0L34.4,264.7L34.9,264.7L34.9,256.5L35.4,256.5L35.4,253.1L35.9,253.1L35.9,250.6L36.4,250.6L36.4,249.4L36.9,249.4L36.9,250.2L37.4,250.2L37.4,254.3L37.9,254.3L37.9,258.7L38.4,258.7L38.4,250.9L38.9,250.9L38.9,249.4L39.4,249.4L39.4,238.0L39.9,238.0L39.9,235.3L40.4,235.3L40.4,240.4L40.9,240.4L40.9,238.4L41.4,238.4L41.4,241.4L41.9,241.4L41.9,246.2L42.4,246.2L42.4,235.3L42.9,235.3L42.9,233.1L43.4,233.1L43.4,226.4L43.9,226.4L43.9,221.2L44.4,221.2L44.4,221.3L44.9,221.3L44.9,219.3L45.4,219.3L45.4,219.6L45.9,219.6L45.9,225.2L46.4,225.2L46.4,230.2L46.9,230.2L46.9,230.9L47.4,230.9L47.4,229.5L47.9,229.5L47.9,224.1L48.4,224.1L48.4,226.8L48.9,226.8L48.9,228.4L49.4,228.4L49.4,238.6L49.9,238.6L49.9,240.1L50.4,240.1L50.4,239.6L50.9,239.6L50.9,248.7L51.4,248.7L51.4,253.8L51.9,253.8L51.9,259.9L52.4,259.9L52.4,265.1L52.9,265.1L52.9,261.1L53.4,261.1L53.4,269.3L53.9,269.3L53.9,272.4L54.4,272.4L54.4,277.8L54.9,277.8L54.9,281.1L55.4,281.1L55.4,285.3L55.9,285.3L55.9,292.4L56.4,292.4L56.4,296.5L56.9,296.5L56.9,301.0L57.4,301.0L57.4,307.9L57.9,307.9L57.9,311.2L58.4,311.2L58.4,314.8L58.9,314.8L58.9,318.5L59.4,318.5L59.4,322.4L59.9,322.4L59.9,325.4L60.4,325.4L60.4,326.4L60.9,326.4L60.9,330.5L61.4,330.5L61.4,331.2L61.9,331.2L61.9,334.8L62.4,334.8L62.4,337.3L62.9,337.3L62.9,336.8L63.4,336.8L63.4,339.7L63.9,339.7L63.9,341.2L64.4,341.2L64.4,342.4L64.9,342.4L64.9,343.4L65.4,343.4L65.4,344.2L65.9,344.2L65.9,345.0L66.4,345.0L66.4,346.0L66.9,346.0L66.9,346.6L67.4,346.6L67.4,346.7L67.9,346.7L67.9,348.1L68.4,348.1L68.4,348.5L68.9,348.5L68.9,348.4L69.4,348.4L69.4,348.9L69.9,348.9L69.9,349.0L70.4,349.0L70.4,349.4L70.9,349.4L70.9,349.7L71.4,349.7L71.4,350.1L71.9,350.1L71.9,350.1L72.4,350.1L72.4,349.6L72.9,349.6L72.9,350.2L73.4,350.2L73.4,350.3L73.9,350.3L73.9,350.8L74.4,350.8L74.4,350.3L74.9,350.3L74.9,350.2L75.4,350.2L75.4,350.5L75.9,350.5L75.9,350.6L76.4,350.6L76.4,349.9L76.9,349.9L76.9,351.1L77.4,351.1L77.4,350.2L77.9,350.2L77.9,351.3L78.4,351.3L78.4,350.5L78.9,350.5L78.9,350.5L79.4,350.5L79.4,350.7L79.9,350.7L79.9,351.0L80.4,351.0L80.4,350.8L80.9,350.8L80.9,350.9L81.4,350.9L81.4,350.7L81.9,350.7L81.9,350.9L82.4,350.9L82.4,351.1L82.9,351.1L82.9,350.9L83.4,350.9L83.4,350.7L83.9,350.7L83.9,351.5L84.4,351.5L84.4,350.8L84.9,350.8L84.9,351.2L85.4,351.2L85.4,351.0L85.9,351.0L85.9,350.7L86.4,350.7L86.4,351.1L86.9,351.1L86.9,351.3L87.4,351.3L87.4,351.0L87.9,351.0L87.9,351.2L88.4,351.2L88.4,351.1L88.9,351.1L88.9,351.2L89.4,351.2L89.4,350.8L89.9,350.8L89.9,351.8L90.4,351.8L90.4,351.2L90.9,351.2L90.9,351.5L91.4,351.5L91.4,351.8L91.9,351.8L91.9,350.6L92.4,350.6L92.4,351.2L92.9,351.2L92.9,351.0L93.4,351.0L93.4,351.3L93.9,351.3L93.9,351.4L94.4,351.4L94.4,351.4L94.9,351.4L94.9,351.2L95.4,351.2L95.4,351.3L95.9,351.3L95.9,351.3L96.4,351.3L96.4,350.9L96.9,350.9L96.9,351.4L97.4,351.4L97.4,351.5L97.9,351.5L97.9,351.8L98.4,351.8L98.4,351.7L98.9,351.7L98.9,351.5L99.4,351.5L99.4,352.1L99.9,352.1L99.9,351.5L100.4,351.5L100.4,351.6L100.9,351.6L100.9,351.7L101.4,351.7L101.4,351.5L101.9,351.5L101.9,351.4L102.4,351.4L102.4,350.9L102.9,350.9L102.9,352.2L103.4,352.2L103.4,351.5L103.9,351.5L103.9,351.0L104.4,351.0L104.4,351.4L104.9,351.4L104.9,351.6L105.4,351.6L105.4,351.5L105.9,351.5L105.9,351.1L106.4,351.1L106.4,351.4L106.9,351.4L106.9,351.0L107.4,351.0L107.4,351.7L107.9,351.7L107.9,352.2L108.4,352.2L108.4,351.9L108.9,351.9L108.9,351.5L109.4,351.5L109.4,351.5L109.9,351.5L109.9,351.9L110.4,351.9L110.4,351.5L110.9,351.5L110.9,351.0L111.4,351.0L111.4,352.2L111.9,352.2L111.9,351.6L112.4,351.6L112.4,351.5L112.9,351.5L112.9,352.2L113.4,352.2L113.4,352.0L113.9,352.0L113.9,351.9L114.4,351.9L114.4,351.6L114.9,351.6L114.9,351.7L115.4,351.7L115.4,351.8L115.9,351.8L115.9,351.7L116.4,351.7L116.4,352.4L116.9,352.4L116.9,351.3L117.4,351.3L117.4,352.0L117.9,352.0L117.9,351.9L118.4,351.9L118.4,351.4L118.9,351.4L118.9,351.3L119.4,351.3L119.4,351.7L119.9,351.7L119.9,351.5L120.4,351.5L120.4,351.7L120.9,351.7L120.9,352.0L121.4,352.0L121.4,352.5L121.9,352.5L121.9,352.2L122.4,352.2L122.4,351.8L122.9,351.8L122.9,351.9L123.4,351.9L123.4,352.1L123.9,352.1L123.9,352.5L124.4,352.5L124.4,352.3L124.9,352.3L124.9,352.1L125.4,352.1L125.4,351.7L125.9,351.7L125.9,352.1L126.4,352.1L126.4,351.8L126.9,351.8L126.9,352.0L127.4,352.0L127.4,351.6L127.9,351.6L127.9,352.0L128.4,352.0L128.4,351.9L128.9,351.9L128.9,352.1L129.4,352.1L129.4,352.0L129.9,352.0L129.9,352.1L130.4,352.1L130.4,352.1L130.9,352.1L130.9,352.1L131.4,352.1L131.4,352.4L131.9,352.4L131.9,351.9L132.4,351.9L132.4,352.1L132.9,352.1L132.9,351.9L133.4,351.9L133.4,352.3L133.9,352.3L133.9,352.1L134.4,352.1L134.4,352.0L134.9,352.0L134.9,351.9L135.4,351.9L135.4,352.1L135.9,352.1L135.9,352.0L136.4,352.0L136.0,352.8Z" fill="#000"/>
<rect x="22.4" y="352.5" width="113.6" height="0.9" fill="#333"/>
<rect x="22.0" y="205.4" width="0.8" height="147.4" fill="#b4b4b4"/>
<rect x="21.9" y="267.6" width="0.9" height="85.2" fill="#858585"/>
<rect x="19.6" y="205.9" width="2.3" height="3.2" rx="0.7" fill="#222"/>
<rect x="19.6" y="219.2" width="2.3" height="3.2" rx="0.7" fill="#222"/>
<rect x="19.6" y="232.4" width="2.3" height="3.2" rx="0.7" fill="#222"/>
<rect x="19.6" y="245.7" width="2.3" height="3.2" rx="0.7" fill="#222"/>
<rect x="19.6" y="258.9" width="2.3" height="3.2" rx="0.7" fill="#222"/>
<rect x="19.6" y="272.1" width="2.3" height="3.2" rx="0.7" fill="#222"/>
<rect x="19.6" y="285.4" width="2.3" height="3.2" rx="0.7" fill="#222"/>
<rect x="19.6" y="298.6" width="2.3" height="3.2" rx="0.7" fill="#222"/>
<rect x="19.6" y="311.9" width="2.3" height="3.2" rx="0.7" fill="#222"/>
<rect x="19.6" y="325.1" width="2.3" height="3.2" rx="0.7" fill="#222"/>
<rect x="19.6" y="338.4" width="2.3" height="3.2" rx="0.7" fill="#222"/>
<rect x="19.6" y="351.7" width="2.3" height="3.2" rx="0.7" fill="#222"/>
<path d="M47.0,358.5h3.4v0.9l-1.7,1.2l-1.7,-1.2z" fill="#000"/>
<path d="M75.3,358.5h3.4v0.9l-1.7,1.2l-1.7,-1.2z" fill="#000"/>
<path d="M103.3,358.5h3.4v0.9l-1.7,1.2l-1.7,-1.2z" fill="#000"/>
<path d="M132.1,358.5h3.4v0.9l-1.7,1.2l-1.7,-1.2z" fill="#000"/>
<text x="62.5" y="367.2" font-size="6.6" font-weight="bold" fill="#000" stroke="#000" stroke-width="0.25" textLength="42.0" lengthAdjust="spacingAndGlyphs">CD10 FITC --&gt;</text>
<text transform="translate(17.3,277.7) rotate(-90)" x="0" y="0" font-size="7.8" font-weight="bold" fill="#000" text-anchor="middle" textLength="24.6" lengthAdjust="spacingAndGlyphs">Number</text>
<path d="M147.2,352.8L147.2,347.3L147.7,347.3L147.7,347.4L148.2,347.4L148.2,348.3L148.7,348.3L148.7,348.2L149.2,348.2L149.2,348.6L149.7,348.6L149.7,348.3L150.2,348.3L150.2,348.8L150.7,348.8L150.7,348.8L151.2,348.8L151.2,348.2L151.7,348.2L151.7,348.5L152.2,348.5L152.2,348.5L152.7,348.5L152.7,348.3L153.2,348.3L153.2,348.8L153.7,348.8L153.7,348.1L154.2,348.1L154.2,348.4L154.7,348.4L154.7,347.9L155.2,347.9L155.2,348.0L155.7,348.0L155.7,347.4L156.2,347.4L156.2,348.0L156.7,348.0L156.7,347.8L157.2,347.8L157.2,347.8L157.7,347.8L157.7,347.9L158.2,347.9L158.2,348.0L158.7,348.0L158.7,347.5L159.2,347.5L159.2,347.3L159.7,347.3L159.7,347.5L160.2,347.5L160.2,347.9L160.7,347.9L160.7,347.1L161.2,347.1L161.2,347.0L161.7,347.0L161.7,346.4L162.2,346.4L162.2,346.7L162.7,346.7L162.7,346.6L163.2,346.6L163.2,346.9L163.7,346.9L163.7,346.6L164.2,346.6L164.2,346.5L164.7,346.5L164.7,347.2L165.2,347.2L165.2,346.8L165.7,346.8L165.7,346.2L166.2,346.2L166.2,346.0L166.7,346.0L166.7,346.2L167.2,346.2L167.2,346.1L167.7,346.1L167.7,346.0L168.2,346.0L168.2,345.6L168.7,345.6L168.7,345.4L169.2,345.4L169.2,344.9L169.7,344.9L169.7,344.7L170.2,344.7L170.2,344.7L170.7,344.7L170.7,344.0L171.2,344.0L171.2,344.6L171.7,344.6L171.7,343.7L172.2,343.7L172.2,343.8L172.7,343.8L172.7,342.8L173.2,342.8L173.2,343.1L173.7,343.1L173.7,342.3L174.2,342.3L174.2,342.4L174.7,342.4L174.7,342.2L175.2,342.2L175.2,342.0L175.7,342.0L175.7,342.2L176.2,342.2L176.2,341.8L176.7,341.8L176.7,341.8L177.2,341.8L177.2,341.9L177.7,341.9L177.7,342.2L178.2,342.2L178.2,341.6L178.7,341.6L178.7,341.6L179.2,341.6L179.2,342.6L179.7,342.6L179.7,342.6L180.2,342.6L180.2,342.2L180.7,342.2L180.7,341.6L181.2,341.6L181.2,341.1L181.7,341.1L181.7,341.9L182.2,341.9L182.2,342.1L182.7,342.1L182.7,341.9L183.2,341.9L183.2,342.4L183.7,342.4L183.7,342.6L184.2,342.6L184.2,341.6L184.7,341.6L184.7,341.4L185.2,341.4L185.2,342.2L185.7,342.2L185.7,341.6L186.2,341.6L186.2,341.4L186.7,341.4L186.7,341.9L187.2,341.9L187.2,341.7L187.7,341.7L187.7,341.1L188.2,341.1L188.2,340.7L188.7,340.7L188.7,340.8L189.2,340.8L189.2,341.4L189.7,341.4L189.7,340.3L190.2,340.3L190.2,340.2L190.7,340.2L190.7,339.3L191.2,339.3L191.2,340.8L191.7,340.8L191.7,339.7L192.2,339.7L192.2,339.3L192.7,339.3L192.7,339.1L193.2,339.1L193.2,338.8L193.7,338.8L193.7,338.2L194.2,338.2L194.2,339.1L194.7,339.1L194.7,337.9L195.2,337.9L195.2,338.0L195.7,338.0L195.7,336.9L196.2,336.9L196.2,337.1L196.7,337.1L196.7,336.7L197.2,336.7L197.2,336.0L197.7,336.0L197.7,335.7L198.2,335.7L198.2,335.4L198.7,335.4L198.7,334.5L199.2,334.5L199.2,335.0L199.7,335.0L199.7,334.4L200.2,334.4L200.2,332.4L200.7,332.4L200.7,331.6L201.2,331.6L201.2,331.6L201.7,331.6L201.7,330.4L202.2,330.4L202.2,330.6L202.7,330.6L202.7,329.4L203.2,329.4L203.2,328.3L203.7,328.3L203.7,328.3L204.2,328.3L204.2,326.5L204.7,326.5L204.7,326.2L205.2,326.2L205.2,325.7L205.7,325.7L205.7,324.4L206.2,324.4L206.2,322.9L206.7,322.9L206.7,320.6L207.2,320.6L207.2,319.3L207.7,319.3L207.7,315.4L208.2,315.4L208.2,314.6L208.7,314.6L208.7,315.7L209.2,315.7L209.2,314.8L209.7,314.8L209.7,313.4L210.2,313.4L210.2,312.3L210.7,312.3L210.7,307.5L211.2,307.5L211.2,305.4L211.7,305.4L211.7,300.2L212.2,300.2L212.2,299.4L212.7,299.4L212.7,294.3L213.2,294.3L213.2,294.8L213.7,294.8L213.7,290.4L214.2,290.4L214.2,289.0L214.7,289.0L214.7,285.6L215.2,285.6L215.2,281.3L215.7,281.3L215.7,277.8L216.2,277.8L216.2,275.6L216.7,275.6L216.7,270.8L217.2,270.8L217.2,267.3L217.7,267.3L217.7,264.9L218.2,264.9L218.2,261.3L218.7,261.3L218.7,258.0L219.2,258.0L219.2,256.7L219.7,256.7L219.7,252.6L220.2,252.6L220.2,250.9L220.7,250.9L220.7,248.5L221.2,248.5L221.2,242.2L221.7,242.2L221.7,239.0L222.2,239.0L222.2,238.4L222.7,238.4L222.7,234.0L223.2,234.0L223.2,226.6L223.7,226.6L223.7,225.6L224.2,225.6L224.2,227.8L224.7,227.8L224.7,217.9L225.2,217.9L225.2,221.2L225.7,221.2L225.7,218.3L226.2,218.3L226.2,214.1L226.7,214.1L226.7,217.7L227.2,217.7L227.2,207.6L227.7,207.6L227.7,209.7L228.2,209.7L228.2,209.1L228.7,209.1L228.7,207.6L229.2,207.6L229.2,208.8L229.7,208.8L229.7,209.9L230.2,209.9L230.2,212.3L230.7,212.3L230.7,213.9L231.2,213.9L231.2,215.0L231.7,215.0L231.7,222.5L232.2,222.5L232.2,225.8L232.7,225.8L232.7,233.7L233.2,233.7L233.2,246.1L233.7,246.1L233.7,252.7L234.2,252.7L234.2,260.4L234.7,260.4L234.7,270.3L235.2,270.3L235.2,278.6L235.7,278.6L235.7,288.6L236.2,288.6L236.2,297.1L236.7,297.1L236.7,302.8L237.2,302.8L237.2,308.1L237.7,308.1L237.7,313.1L238.2,313.1L238.2,318.2L238.7,318.2L238.7,322.1L239.2,322.1L239.2,325.8L239.7,325.8L239.7,329.9L240.2,329.9L240.2,333.4L240.7,333.4L240.7,334.3L241.2,334.3L241.2,336.3L241.7,336.3L241.7,338.8L242.2,338.8L242.2,341.6L242.7,341.6L242.7,342.5L243.2,342.5L243.2,344.0L243.7,344.0L243.7,345.2L244.2,345.2L244.2,345.3L244.7,345.3L244.7,346.6L245.2,346.6L245.2,347.2L245.7,347.2L245.7,348.4L246.2,348.4L246.2,348.8L246.7,348.8L246.7,349.5L247.2,349.5L247.2,350.1L247.7,350.1L247.7,350.1L248.2,350.1L248.2,350.9L248.7,350.9L248.7,351.1L249.2,351.1L249.2,350.6L249.7,350.6L249.7,350.5L250.2,350.5L250.2,351.2L250.7,351.2L250.7,351.8L251.2,351.8L251.2,351.6L251.7,351.6L251.7,352.1L252.2,352.1L252.2,351.8L252.7,351.8L252.7,352.2L253.2,352.2L253.2,351.8L253.7,351.8L253.7,351.8L254.2,351.8L254.2,352.2L254.7,352.2L254.7,352.0L255.2,352.0L255.2,352.3L255.7,352.3L255.7,352.2L256.2,352.2L256.2,352.3L256.7,352.3L256.7,352.1L257.2,352.1L257.2,352.2L257.7,352.2L257.7,352.4L258.2,352.4L258.2,352.5L258.7,352.5L258.7,352.8Z" fill="#000"/>
<rect x="147.2" y="352.5" width="111.5" height="0.9" fill="#333"/>
<rect x="146.8" y="206.7" width="0.8" height="146.1" fill="#b4b4b4"/>
<rect x="146.8" y="303.4" width="0.9" height="49.4" fill="#858585"/>
<rect x="143.9" y="208.0" width="2.3" height="3.2" rx="0.7" fill="#222"/>
<rect x="143.9" y="221.0" width="2.3" height="3.2" rx="0.7" fill="#222"/>
<rect x="143.9" y="234.1" width="2.3" height="3.2" rx="0.7" fill="#222"/>
<rect x="143.9" y="247.1" width="2.3" height="3.2" rx="0.7" fill="#222"/>
<rect x="143.9" y="260.2" width="2.3" height="3.2" rx="0.7" fill="#222"/>
<rect x="143.9" y="273.2" width="2.3" height="3.2" rx="0.7" fill="#222"/>
<rect x="143.9" y="286.2" width="2.3" height="3.2" rx="0.7" fill="#222"/>
<rect x="143.9" y="299.3" width="2.3" height="3.2" rx="0.7" fill="#222"/>
<rect x="143.9" y="312.3" width="2.3" height="3.2" rx="0.7" fill="#222"/>
<rect x="143.9" y="325.4" width="2.3" height="3.2" rx="0.7" fill="#222"/>
<rect x="143.9" y="338.4" width="2.3" height="3.2" rx="0.7" fill="#222"/>
<rect x="143.9" y="351.7" width="2.3" height="3.2" rx="0.7" fill="#222"/>
<path d="M171.3,358.5h3.4v0.9l-1.7,1.2l-1.7,-1.2z" fill="#000"/>
<path d="M199.6,358.5h3.4v0.9l-1.7,1.2l-1.7,-1.2z" fill="#000"/>
<path d="M228.3,358.5h3.4v0.9l-1.7,1.2l-1.7,-1.2z" fill="#000"/>
<path d="M257.1,358.5h3.4v0.9l-1.7,1.2l-1.7,-1.2z" fill="#000"/>
<text x="190.0" y="367.2" font-size="6.6" font-weight="bold" fill="#000" stroke="#000" stroke-width="0.25" textLength="36.2" lengthAdjust="spacingAndGlyphs">CD19 PE --&gt;</text>
<text transform="translate(142.9,277.6) rotate(-90)" x="0" y="0" font-size="7.8" font-weight="bold" fill="#000" text-anchor="middle" textLength="24.6" lengthAdjust="spacingAndGlyphs">Number</text>
<path d="M271.8,352.8L271.8,268.7L272.3,268.7L272.3,269.4L272.8,269.4L272.8,273.0L273.3,273.0L273.3,278.9L273.8,278.9L273.8,275.9L274.3,275.9L274.3,271.9L274.8,271.9L274.8,269.3L275.3,269.3L275.3,271.4L275.8,271.4L275.8,271.8L276.3,271.8L276.3,271.2L276.8,271.2L276.8,271.5L277.3,271.5L277.3,272.6L277.8,272.6L277.8,275.1L278.3,275.1L278.3,273.5L278.8,273.5L278.8,267.9L279.3,267.9L279.3,270.9L279.8,270.9L279.8,269.3L280.3,269.3L280.3,273.2L280.8,273.2L280.8,270.0L281.3,270.0L281.3,270.3L281.8,270.3L281.8,268.8L282.3,268.8L282.3,270.0L282.8,270.0L282.8,264.6L283.3,264.6L283.3,268.8L283.8,268.8L283.8,265.1L284.3,265.1L284.3,263.0L284.8,263.0L284.8,265.0L285.3,265.0L285.3,260.4L285.8,260.4L285.8,269.4L286.3,269.4L286.3,265.6L286.8,265.6L286.8,264.3L287.3,264.3L287.3,263.9L287.8,263.9L287.8,261.8L288.3,261.8L288.3,263.8L288.8,263.8L288.8,262.7L289.3,262.7L289.3,266.9L289.8,266.9L289.8,260.1L290.3,260.1L290.3,250.4L290.8,250.4L290.8,246.6L291.3,246.6L291.3,249.5L291.8,249.5L291.8,241.2L292.3,241.2L292.3,249.4L292.8,249.4L292.8,245.6L293.3,245.6L293.3,242.2L293.8,242.2L293.8,243.4L294.3,243.4L294.3,237.6L294.8,237.6L294.8,233.5L295.3,233.5L295.3,222.7L295.8,222.7L295.8,228.0L296.3,228.0L296.3,223.7L296.8,223.7L296.8,221.7L297.3,221.7L297.3,221.7L297.8,221.7L297.8,223.5L298.3,223.5L298.3,229.7L298.8,229.7L298.8,224.7L299.3,224.7L299.3,225.2L299.8,225.2L299.8,224.7L300.3,224.7L300.3,221.8L300.8,221.8L300.8,226.2L301.3,226.2L301.3,226.7L301.8,226.7L301.8,224.9L302.3,224.9L302.3,231.9L302.8,231.9L302.8,228.3L303.3,228.3L303.3,221.7L303.8,221.7L303.8,221.7L304.3,221.7L304.3,227.6L304.8,227.6L304.8,228.9L305.3,228.9L305.3,232.0L305.8,232.0L305.8,222.7L306.3,222.7L306.3,221.7L306.8,221.7L306.8,221.9L307.3,221.9L307.3,226.1L307.8,226.1L307.8,222.6L308.3,222.6L308.3,225.4L308.8,225.4L308.8,221.7L309.3,221.7L309.3,224.5L309.8,224.5L309.8,238.4L310.3,238.4L310.3,233.3L310.8,233.3L310.8,237.2L311.3,237.2L311.3,245.7L311.8,245.7L311.8,248.3L312.3,248.3L312.3,247.5L312.8,247.5L312.8,249.8L313.3,249.8L313.3,260.5L313.8,260.5L313.8,263.1L314.3,263.1L314.3,271.0L314.8,271.0L314.8,275.2L315.3,275.2L315.3,279.8L315.8,279.8L315.8,279.8L316.3,279.8L316.3,285.8L316.8,285.8L316.8,293.6L317.3,293.6L317.3,292.2L317.8,292.2L317.8,299.3L318.3,299.3L318.3,304.1L318.8,304.1L318.8,306.0L319.3,306.0L319.3,308.1L319.8,308.1L319.8,311.7L320.3,311.7L320.3,317.3L320.8,317.3L320.8,319.4L321.3,319.4L321.3,321.9L321.8,321.9L321.8,325.3L322.3,325.3L322.3,325.8L322.8,325.8L322.8,327.3L323.3,327.3L323.3,327.4L323.8,327.4L323.8,331.6L324.3,331.6L324.3,333.1L324.8,333.1L324.8,335.3L325.3,335.3L325.3,335.1L325.8,335.1L325.8,337.1L326.3,337.1L326.3,337.5L326.8,337.5L326.8,339.4L327.3,339.4L327.3,338.9L327.8,338.9L327.8,339.6L328.3,339.6L328.3,340.9L328.8,340.9L328.8,341.3L329.3,341.3L329.3,342.4L329.8,342.4L329.8,342.8L330.3,342.8L330.3,342.4L330.8,342.4L330.8,342.2L331.3,342.2L331.3,342.2L331.8,342.2L331.8,342.6L332.3,342.6L332.3,344.9L332.8,344.9L332.8,343.9L333.3,343.9L333.3,344.5L333.8,344.5L333.8,344.8L334.3,344.8L334.3,344.7L334.8,344.7L334.8,344.5L335.3,344.5L335.3,344.9L335.8,344.9L335.8,346.5L336.3,346.5L336.3,344.9L336.8,344.9L336.8,345.9L337.3,345.9L337.3,346.2L337.8,346.2L337.8,346.6L338.3,346.6L338.3,347.3L338.8,347.3L338.8,346.1L339.3,346.1L339.3,346.9L339.8,346.9L339.8,347.3L340.3,347.3L340.3,347.2L340.8,347.2L340.8,347.5L341.3,347.5L341.3,347.8L341.8,347.8L341.8,347.8L342.3,347.8L342.3,348.3L342.8,348.3L342.8,348.5L343.3,348.5L343.3,348.2L343.8,348.2L343.8,348.9L344.3,348.9L344.3,348.5L344.8,348.5L344.8,349.6L345.3,349.6L345.3,349.6L345.8,349.6L345.8,350.0L346.3,350.0L346.3,349.6L346.8,349.6L346.8,348.7L347.3,348.7L347.3,349.3L347.8,349.3L347.8,350.0L348.3,350.0L348.3,348.9L348.8,348.9L348.8,349.9L349.3,349.9L349.3,350.3L349.8,350.3L349.8,349.6L350.3,349.6L350.3,350.2L350.8,350.2L350.8,349.9L351.3,349.9L351.3,350.3L351.8,350.3L351.8,350.6L352.3,350.6L352.3,351.3L352.8,351.3L352.8,350.9L353.3,350.9L353.3,351.9L353.8,351.9L353.8,351.3L354.3,351.3L354.3,351.5L354.8,351.5L354.8,351.8L355.3,351.8L355.3,350.7L355.8,350.7L355.8,351.3L356.3,351.3L356.3,351.0L356.8,351.0L356.8,352.0L357.3,352.0L357.3,351.3L357.8,351.3L357.8,351.5L358.3,351.5L358.3,351.2L358.8,351.2L358.8,352.1L359.3,352.1L359.3,351.4L359.8,351.4L359.8,352.0L360.3,352.0L360.3,352.1L360.8,352.1L360.8,351.2L361.3,351.2L361.3,351.6L361.8,351.6L361.8,351.0L362.3,351.0L362.3,351.2L362.8,351.2L362.8,351.8L363.3,351.8L363.3,351.8L363.8,351.8L363.8,351.3L364.3,351.3L364.3,351.3L364.8,351.3L364.8,351.3L365.3,351.3L365.3,351.2L365.8,351.2L365.8,351.2L366.3,351.2L366.3,351.5L366.8,351.5L366.8,351.0L367.3,351.0L367.3,351.3L367.8,351.3L367.8,351.5L368.3,351.5L368.3,351.8L368.8,351.8L368.8,351.6L369.3,351.6L369.3,351.9L369.8,351.9L369.8,351.8L370.3,351.8L370.3,351.7L370.8,351.7L370.8,351.6L371.3,351.6L371.3,352.1L371.8,352.1L371.8,352.4L372.3,352.4L372.3,351.4L372.8,351.4L372.8,352.5L373.3,352.5L373.3,351.9L373.8,351.9L373.8,351.4L374.3,351.4L374.3,351.3L374.8,351.3L374.8,351.3L375.3,351.3L375.3,351.0L375.8,351.0L375.8,351.9L376.3,351.9L376.3,351.1L376.8,351.1L376.8,351.8L377.3,351.8L377.3,352.4L377.8,352.4L377.8,351.9L378.3,351.9L378.3,351.4L378.8,351.4L378.8,352.4L379.3,352.4L379.3,352.5L379.8,352.5L379.8,352.3L380.3,352.3L380.3,351.9L380.8,351.9L380.8,352.1L381.3,352.1L381.3,352.2L381.8,352.2L381.8,352.3L382.3,352.3L382.3,352.0L382.8,352.0L382.8,351.9L383.3,351.9L383.3,352.2L383.8,352.2L383.8,352.5L384.3,352.5L384.3,352.3L384.8,352.3L384.4,352.8Z" fill="#000"/>
<rect x="272.55" y="262.0" width="0.9" height="90.8" fill="#000"/>
<rect x="274.55" y="262.0" width="0.9" height="90.8" fill="#000"/>
<rect x="277.05" y="262.0" width="0.9" height="90.8" fill="#000"/>
<rect x="280.55" y="265.0" width="0.9" height="87.8" fill="#000"/>
<rect x="284.05" y="259.0" width="0.9" height="93.8" fill="#000"/>
<rect x="287.85" y="249.6" width="0.9" height="103.2" fill="#000"/>
<rect x="291.55" y="231.6" width="0.9" height="121.2" fill="#000"/>
<rect x="297.05" y="216.0" width="0.9" height="136.8" fill="#000"/>
<rect x="299.45" y="207.9" width="0.9" height="144.9" fill="#000"/>
<rect x="301.05" y="214.0" width="0.9" height="138.8" fill="#000"/>
<rect x="303.75" y="205.9" width="0.9" height="146.9" fill="#000"/>
<rect x="305.55" y="212.0" width="0.9" height="140.8" fill="#000"/>
<rect x="307.35" y="213.8" width="0.9" height="139.0" fill="#000"/>
<rect x="271.8" y="352.5" width="112.6" height="0.9" fill="#333"/>
<rect x="271.4" y="204.0" width="0.8" height="148.8" fill="#b4b4b4"/>
<rect x="271.4" y="204.0" width="0.9" height="148.8" fill="#858585"/>
<rect x="268.6" y="215.4" width="2.3" height="3.2" rx="0.7" fill="#222"/>
<rect x="268.6" y="238.0" width="2.3" height="3.2" rx="0.7" fill="#222"/>
<rect x="268.6" y="260.6" width="2.3" height="3.2" rx="0.7" fill="#222"/>
<rect x="268.6" y="283.2" width="2.3" height="3.2" rx="0.7" fill="#222"/>
<rect x="268.6" y="305.8" width="2.3" height="3.2" rx="0.7" fill="#222"/>
<rect x="268.6" y="328.4" width="2.3" height="3.2" rx="0.7" fill="#222"/>
<rect x="268.6" y="350.6" width="2.3" height="3.2" rx="0.7" fill="#222"/>
<path d="M295.8,358.5h3.4v0.9l-1.7,1.2l-1.7,-1.2z" fill="#000"/>
<path d="M323.8,358.5h3.4v0.9l-1.7,1.2l-1.7,-1.2z" fill="#000"/>
<path d="M352.1,358.5h3.4v0.9l-1.7,1.2l-1.7,-1.2z" fill="#000"/>
<path d="M380.8,358.5h3.4v0.9l-1.7,1.2l-1.7,-1.2z" fill="#000"/>
<text x="308.0" y="367.2" font-size="6.6" font-weight="bold" fill="#000" stroke="#000" stroke-width="0.25" textLength="47.5" lengthAdjust="spacingAndGlyphs">CD34 PerCP --&gt;</text>
<text transform="translate(267.2,277.5) rotate(-90)" x="0" y="0" font-size="7.8" font-weight="bold" fill="#000" text-anchor="middle" textLength="24.6" lengthAdjust="spacingAndGlyphs">Number</text>
<path d="M25.6,570.8L25.6,569.5L26.1,569.5L26.1,570.0L26.6,570.0L26.6,569.7L27.1,569.7L27.1,569.3L27.6,569.3L27.6,569.2L28.1,569.2L28.1,569.1L28.6,569.1L28.6,568.6L29.1,568.6L29.1,569.0L29.6,569.0L29.6,568.8L30.1,568.8L30.1,568.6L30.6,568.6L30.6,568.2L31.1,568.2L31.1,567.7L31.6,567.7L31.6,568.3L32.1,568.3L32.1,567.8L32.6,567.8L32.6,567.6L33.1,567.6L33.1,567.3L33.6,567.3L33.6,567.0L34.1,567.0L34.1,566.9L34.6,566.9L34.6,566.5L35.1,566.5L35.1,565.8L35.6,565.8L35.6,566.1L36.1,566.1L36.1,565.7L36.6,565.7L36.6,565.7L37.1,565.7L37.1,565.7L37.6,565.7L37.6,565.5L38.1,565.5L38.1,565.0L38.6,565.0L38.6,564.5L39.1,564.5L39.1,564.1L39.6,564.1L39.6,564.0L40.1,564.0L40.1,564.3L40.6,564.3L40.6,563.6L41.1,563.6L41.1,563.0L41.6,563.0L41.6,563.3L42.1,563.3L42.1,562.3L42.6,562.3L42.6,562.4L43.1,562.4L43.1,561.7L43.6,561.7L43.6,561.3L44.1,561.3L44.1,561.3L44.6,561.3L44.6,560.1L45.1,560.1L45.1,560.1L45.6,560.1L45.6,559.8L46.1,559.8L46.1,559.1L46.6,559.1L46.6,558.2L47.1,558.2L47.1,555.9L47.6,555.9L47.6,553.1L48.1,553.1L48.1,550.8L48.6,550.8L48.6,548.4L49.1,548.4L49.1,545.3L49.6,545.3L49.6,542.4L50.1,542.4L50.1,539.0L50.6,539.0L50.6,537.0L51.1,537.0L51.1,533.6L51.6,533.6L51.6,530.5L52.1,530.5L52.1,527.3L52.6,527.3L52.6,524.5L53.1,524.5L53.1,520.9L53.6,520.9L53.6,517.9L54.1,517.9L54.1,514.0L54.6,514.0L54.6,508.1L55.1,508.1L55.1,505.7L55.6,505.7L55.6,502.4L56.1,502.4L56.1,497.9L56.6,497.9L56.6,496.2L57.1,496.2L57.1,489.9L57.6,489.9L57.6,487.0L58.1,487.0L58.1,482.5L58.6,482.5L58.6,478.2L59.1,478.2L59.1,473.0L59.6,473.0L59.6,469.4L60.1,469.4L60.1,466.6L60.6,466.6L60.6,460.5L61.1,460.5L61.1,456.4L61.6,456.4L61.6,455.1L62.1,455.1L62.1,446.7L62.6,446.7L62.6,442.3L63.1,442.3L63.1,437.9L63.6,437.9L63.6,439.7L64.1,439.7L64.1,441.1L64.6,441.1L64.6,437.6L65.1,437.6L65.1,436.4L65.6,436.4L65.6,428.2L66.1,428.2L66.1,429.8L66.6,429.8L66.6,432.2L67.1,432.2L67.1,435.2L67.6,435.2L67.6,438.5L68.1,438.5L68.1,438.3L68.6,438.3L68.6,439.7L69.1,439.7L69.1,444.6L69.6,444.6L69.6,448.5L70.1,448.5L70.1,453.4L70.6,453.4L70.6,463.5L71.1,463.5L71.1,470.2L71.6,470.2L71.6,476.5L72.1,476.5L72.1,482.8L72.6,482.8L72.6,489.9L73.1,489.9L73.1,496.6L73.6,496.6L73.6,505.8L74.1,505.8L74.1,509.8L74.6,509.8L74.6,519.7L75.1,519.7L75.1,524.1L75.6,524.1L75.6,531.1L76.1,531.1L76.1,536.1L76.6,536.1L76.6,543.3L77.1,543.3L77.1,547.5L77.6,547.5L77.6,551.2L78.1,551.2L78.1,555.3L78.6,555.3L78.6,559.1L79.1,559.1L79.1,560.1L79.6,560.1L79.6,560.9L80.1,560.9L80.1,561.8L80.6,561.8L80.6,562.5L81.1,562.5L81.1,563.6L81.6,563.6L81.6,563.9L82.1,563.9L82.1,565.0L82.6,565.0L82.6,565.8L83.1,565.8L83.1,566.8L83.6,566.8L83.6,567.2L84.1,567.2L84.1,567.3L84.6,567.3L84.6,567.8L85.1,567.8L85.1,568.0L85.6,568.0L85.6,568.4L86.1,568.4L86.1,568.6L86.6,568.6L86.6,568.8L87.1,568.8L87.1,569.1L87.6,569.1L87.6,569.3L88.1,569.3L88.1,569.6L88.6,569.6L88.6,569.4L89.1,569.4L89.1,569.6L89.6,569.6L89.6,569.5L90.1,569.5L90.1,569.4L90.6,569.4L90.6,569.3L91.1,569.3L91.1,569.8L91.6,569.8L91.6,569.7L92.1,569.7L92.1,569.7L92.6,569.7L92.6,569.8L93.1,569.8L93.1,569.7L93.6,569.7L93.6,569.8L94.1,569.8L94.1,569.8L94.6,569.8L94.6,569.9L95.1,569.9L95.1,569.6L95.6,569.6L95.6,569.6L96.1,569.6L96.1,569.8L96.6,569.8L96.6,569.7L97.1,569.7L97.1,569.8L97.6,569.8L97.6,569.9L98.1,569.9L98.1,569.9L98.6,569.9L98.6,569.8L99.1,569.8L99.1,569.8L99.6,569.8L99.6,569.9L100.1,569.9L100.1,569.7L100.6,569.7L100.6,569.8L101.1,569.8L101.1,569.9L101.6,569.9L101.6,569.8L102.1,569.8L102.1,569.6L102.6,569.6L102.6,570.0L103.1,570.0L103.1,569.8L103.6,569.8L103.6,569.8L104.1,569.8L104.1,570.0L104.6,570.0L104.6,570.0L105.1,570.0L105.1,569.8L105.6,569.8L105.6,569.8L106.1,569.8L106.1,569.7L106.6,569.7L106.6,570.3L107.1,570.3L107.1,570.0L107.6,570.0L107.6,569.9L108.1,569.9L108.1,569.9L108.6,569.9L108.6,570.0L109.1,570.0L109.1,570.0L109.6,570.0L109.6,570.0L110.1,570.0L110.1,569.9L110.6,569.9L110.6,569.8L111.1,569.8L111.1,570.0L111.6,570.0L111.6,570.0L112.1,570.0L112.1,569.9L112.6,569.9L112.6,570.4L113.1,570.4L113.1,570.0L113.6,570.0L113.6,570.3L114.1,570.3L114.1,570.1L114.6,570.1L114.6,570.0L115.1,570.0L115.1,570.2L115.6,570.2L115.6,570.2L116.1,570.2L116.1,570.1L116.6,570.1L116.6,570.1L117.1,570.1L117.1,570.1L117.6,570.1L117.6,570.2L118.1,570.2L118.1,570.1L118.6,570.1L118.6,570.2L119.1,570.2L119.1,570.2L119.6,570.2L119.6,570.2L120.1,570.2L120.1,570.2L120.6,570.2L120.6,570.1L121.1,570.1L121.1,570.5L121.6,570.5L121.6,570.5L122.1,570.5L122.1,570.2L122.6,570.2L122.6,570.2L123.1,570.2L123.1,570.2L123.6,570.2L123.6,570.4L124.1,570.4L124.1,570.2L124.6,570.2L124.6,570.4L125.1,570.4L125.1,570.4L125.6,570.4L125.6,570.3L126.1,570.3L126.1,570.5L126.6,570.5L126.6,570.4L127.1,570.4L127.1,570.4L127.6,570.4L127.6,570.5L128.1,570.5L128.1,570.5L128.6,570.5L128.6,570.5L129.1,570.5L129.1,570.5L129.6,570.5L129.6,570.4L130.1,570.4L130.1,570.5L130.6,570.5L130.6,570.5L131.1,570.5L131.1,570.4L131.6,570.4L131.6,570.5L132.1,570.5L132.1,570.1L132.6,570.1L132.6,570.3L133.1,570.3L133.1,570.5L133.6,570.5L133.6,570.4L134.1,570.4L134.1,570.5L134.6,570.5L134.6,570.2L135.1,570.2L135.1,570.5L135.6,570.5L135.6,570.2L136.1,570.2L136.0,570.8Z" fill="#000"/>
<rect x="25.6" y="570.5" width="110.4" height="0.9" fill="#333"/>
<rect x="25.2" y="425.0" width="0.8" height="145.8" fill="#b4b4b4"/>
<rect x="25.2" y="549.0" width="0.9" height="21.8" fill="#858585"/>
<rect x="22.0" y="426.1" width="2.3" height="3.2" rx="0.7" fill="#222"/>
<rect x="22.0" y="446.1" width="2.3" height="3.2" rx="0.7" fill="#222"/>
<rect x="22.0" y="467.3" width="2.3" height="3.2" rx="0.7" fill="#222"/>
<rect x="22.0" y="477.6" width="2.3" height="3.2" rx="0.7" fill="#222"/>
<rect x="22.0" y="487.9" width="2.3" height="3.2" rx="0.7" fill="#222"/>
<rect x="22.0" y="498.3" width="2.3" height="3.2" rx="0.7" fill="#222"/>
<rect x="22.0" y="508.6" width="2.3" height="3.2" rx="0.7" fill="#222"/>
<rect x="22.0" y="518.9" width="2.3" height="3.2" rx="0.7" fill="#222"/>
<rect x="22.0" y="529.2" width="2.3" height="3.2" rx="0.7" fill="#222"/>
<rect x="22.0" y="539.6" width="2.3" height="3.2" rx="0.7" fill="#222"/>
<rect x="22.0" y="549.9" width="2.3" height="3.2" rx="0.7" fill="#222"/>
<rect x="22.0" y="560.2" width="2.3" height="3.2" rx="0.7" fill="#222"/>
<rect x="22.0" y="570.8" width="2.3" height="3.2" rx="0.7" fill="#222"/>
<path d="M49.5,576.3h3.4v0.9l-1.7,1.2l-1.7,-1.2z" fill="#000"/>
<path d="M77.0,576.3h3.4v0.9l-1.7,1.2l-1.7,-1.2z" fill="#000"/>
<path d="M104.5,576.3h3.4v0.9l-1.7,1.2l-1.7,-1.2z" fill="#000"/>
<path d="M132.6,576.3h3.4v0.9l-1.7,1.2l-1.7,-1.2z" fill="#000"/>
<text x="56.2" y="586.2" font-size="6.6" font-weight="bold" fill="#000" stroke="#000" stroke-width="0.25" textLength="67.5" lengthAdjust="spacingAndGlyphs">MOUSE CD45 FITC --&gt;</text>
<text transform="translate(21.9,496.3) rotate(-90)" x="0" y="0" font-size="7.8" font-weight="bold" fill="#000" text-anchor="middle" textLength="24.6" lengthAdjust="spacingAndGlyphs">Number</text>
<path d="M147.8,570.8L147.8,569.9L148.3,569.9L148.3,570.5L148.8,570.5L148.8,570.3L149.3,570.3L149.3,569.7L149.8,569.7L149.8,569.9L150.3,569.9L150.3,570.1L150.8,570.1L150.8,569.7L151.3,569.7L151.3,569.5L151.8,569.5L151.8,569.4L152.3,569.4L152.3,569.8L152.8,569.8L152.8,569.7L153.3,569.7L153.3,569.5L153.8,569.5L153.8,569.6L154.3,569.6L154.3,569.3L154.8,569.3L154.8,568.8L155.3,568.8L155.3,568.6L155.8,568.6L155.8,568.2L156.3,568.2L156.3,568.0L156.8,568.0L156.8,568.3L157.3,568.3L157.3,568.4L157.8,568.4L157.8,568.7L158.3,568.7L158.3,567.9L158.8,567.9L158.8,567.8L159.3,567.8L159.3,567.9L159.8,567.9L159.8,567.2L160.3,567.2L160.3,567.7L160.8,567.7L160.8,567.3L161.3,567.3L161.3,566.9L161.8,566.9L161.8,566.4L162.3,566.4L162.3,566.0L162.8,566.0L162.8,565.7L163.3,565.7L163.3,565.8L163.8,565.8L163.8,565.8L164.3,565.8L164.3,564.6L164.8,564.6L164.8,563.5L165.3,563.5L165.3,563.8L165.8,563.8L165.8,563.9L166.3,563.9L166.3,562.6L166.8,562.6L166.8,563.5L167.3,563.5L167.3,562.6L167.8,562.6L167.8,561.9L168.3,561.9L168.3,562.0L168.8,562.0L168.8,561.4L169.3,561.4L169.3,561.4L169.8,561.4L169.8,560.4L170.3,560.4L170.3,560.2L170.8,560.2L170.8,559.8L171.3,559.8L171.3,559.3L171.8,559.3L171.8,559.6L172.3,559.6L172.3,559.1L172.8,559.1L172.8,558.5L173.3,558.5L173.3,556.8L173.8,556.8L173.8,556.0L174.3,556.0L174.3,555.5L174.8,555.5L174.8,553.6L175.3,553.6L175.3,554.7L175.8,554.7L175.8,554.7L176.3,554.7L176.3,554.5L176.8,554.5L176.8,554.6L177.3,554.6L177.3,556.1L177.8,556.1L177.8,553.5L178.3,553.5L178.3,554.9L178.8,554.9L178.8,555.3L179.3,555.3L179.3,554.0L179.8,554.0L179.8,555.4L180.3,555.4L180.3,554.9L180.8,554.9L180.8,555.1L181.3,555.1L181.3,556.6L181.8,556.6L181.8,555.6L182.3,555.6L182.3,556.4L182.8,556.4L182.8,556.4L183.3,556.4L183.3,556.4L183.8,556.4L183.8,556.8L184.3,556.8L184.3,556.5L184.8,556.5L184.8,556.8L185.3,556.8L185.3,556.0L185.8,556.0L185.8,555.8L186.3,555.8L186.3,555.8L186.8,555.8L186.8,556.4L187.3,556.4L187.3,555.9L187.8,555.9L187.8,555.6L188.3,555.6L188.3,556.4L188.8,556.4L188.8,556.6L189.3,556.6L189.3,557.6L189.8,557.6L189.8,556.6L190.3,556.6L190.3,556.2L190.8,556.2L190.8,554.4L191.3,554.4L191.3,553.3L191.8,553.3L191.8,552.0L192.3,552.0L192.3,549.9L192.8,549.9L192.8,548.8L193.3,548.8L193.3,547.8L193.8,547.8L193.8,548.5L194.3,548.5L194.3,547.4L194.8,547.4L194.8,545.1L195.3,545.1L195.3,546.4L195.8,546.4L195.8,545.4L196.3,545.4L196.3,545.4L196.8,545.4L196.8,543.2L197.3,543.2L197.3,542.1L197.8,542.1L197.8,538.8L198.3,538.8L198.3,538.4L198.8,538.4L198.8,535.2L199.3,535.2L199.3,535.1L199.8,535.1L199.8,531.6L200.3,531.6L200.3,531.4L200.8,531.4L200.8,527.4L201.3,527.4L201.3,524.8L201.8,524.8L201.8,523.3L202.3,523.3L202.3,516.8L202.8,516.8L202.8,515.3L203.3,515.3L203.3,515.0L203.8,515.0L203.8,511.6L204.3,511.6L204.3,507.9L204.8,507.9L204.8,503.5L205.3,503.5L205.3,498.8L205.8,498.8L205.8,491.3L206.3,491.3L206.3,487.8L206.8,487.8L206.8,485.2L207.3,485.2L207.3,481.1L207.8,481.1L207.8,471.2L208.3,471.2L208.3,461.3L208.8,461.3L208.8,455.6L209.3,455.6L209.3,453.0L209.8,453.0L209.8,446.0L210.3,446.0L210.3,440.9L210.8,440.9L210.8,438.3L211.3,438.3L211.3,435.0L211.8,435.0L211.8,428.9L212.3,428.9L212.3,428.9L212.8,428.9L212.8,429.4L213.3,429.4L213.3,431.4L213.8,431.4L213.8,429.1L214.3,429.1L214.3,428.9L214.8,428.9L214.8,433.1L215.3,433.1L215.3,437.4L215.8,437.4L215.8,446.6L216.3,446.6L216.3,448.3L216.8,448.3L216.8,452.9L217.3,452.9L217.3,464.8L217.8,464.8L217.8,478.7L218.3,478.7L218.3,491.7L218.8,491.7L218.8,501.9L219.3,501.9L219.3,510.6L219.8,510.6L219.8,518.5L220.3,518.5L220.3,524.5L220.8,524.5L220.8,526.9L221.3,526.9L221.3,530.7L221.8,530.7L221.8,533.4L222.3,533.4L222.3,536.2L222.8,536.2L222.8,537.5L223.3,537.5L223.3,541.7L223.8,541.7L223.8,542.3L224.3,542.3L224.3,542.3L224.8,542.3L224.8,545.3L225.3,545.3L225.3,546.1L225.8,546.1L225.8,547.4L226.3,547.4L226.3,549.8L226.8,549.8L226.8,549.5L227.3,549.5L227.3,550.8L227.8,550.8L227.8,551.0L228.3,551.0L228.3,553.1L228.8,553.1L228.8,554.7L229.3,554.7L229.3,555.1L229.8,555.1L229.8,555.0L230.3,555.0L230.3,555.7L230.8,555.7L230.8,555.6L231.3,555.6L231.3,556.9L231.8,556.9L231.8,556.6L232.3,556.6L232.3,557.8L232.8,557.8L232.8,558.7L233.3,558.7L233.3,559.1L233.8,559.1L233.8,559.2L234.3,559.2L234.3,560.6L234.8,560.6L234.8,562.1L235.3,562.1L235.3,562.3L235.8,562.3L235.8,561.9L236.3,561.9L236.3,562.5L236.8,562.5L236.8,563.2L237.3,563.2L237.3,563.2L237.8,563.2L237.8,563.1L238.3,563.1L238.3,563.6L238.8,563.6L238.8,564.0L239.3,564.0L239.3,564.2L239.8,564.2L239.8,564.8L240.3,564.8L240.3,565.3L240.8,565.3L240.8,565.3L241.3,565.3L241.3,565.3L241.8,565.3L241.8,566.0L242.3,566.0L242.3,566.2L242.8,566.2L242.8,566.2L243.3,566.2L243.3,567.4L243.8,567.4L243.8,566.9L244.3,566.9L244.3,567.2L244.8,567.2L244.8,568.1L245.3,568.1L245.3,568.4L245.8,568.4L245.8,568.3L246.3,568.3L246.3,568.3L246.8,568.3L246.8,568.4L247.3,568.4L247.3,568.7L247.8,568.7L247.8,569.0L248.3,569.0L248.3,569.3L248.8,569.3L248.8,569.6L249.3,569.6L249.3,569.2L249.8,569.2L249.8,569.7L250.3,569.7L250.3,569.4L250.8,569.4L250.8,569.3L251.3,569.3L251.3,569.8L251.8,569.8L251.8,570.0L252.3,570.0L252.3,569.6L252.8,569.6L252.8,570.0L253.3,570.0L253.3,570.4L253.8,570.4L253.8,570.5L254.3,570.5L254.3,570.4L254.8,570.4L254.8,570.1L255.3,570.1L255.3,570.2L255.8,570.2L255.8,570.3L256.3,570.3L256.3,570.0L256.8,570.0L256.5,570.8Z" fill="#000"/>
<rect x="147.8" y="570.5" width="108.7" height="0.9" fill="#333"/>
<rect x="147.4" y="423.5" width="0.8" height="147.3" fill="#b4b4b4"/>
<rect x="147.4" y="563.5" width="0.9" height="7.3" fill="#858585"/>
<rect x="143.9" y="437.7" width="2.3" height="3.2" rx="0.7" fill="#222"/>
<rect x="143.9" y="458.8" width="2.3" height="3.2" rx="0.7" fill="#222"/>
<rect x="143.9" y="470.0" width="2.3" height="3.2" rx="0.7" fill="#222"/>
<rect x="143.9" y="481.1" width="2.3" height="3.2" rx="0.7" fill="#222"/>
<rect x="143.9" y="492.3" width="2.3" height="3.2" rx="0.7" fill="#222"/>
<rect x="143.9" y="503.4" width="2.3" height="3.2" rx="0.7" fill="#222"/>
<rect x="143.9" y="514.6" width="2.3" height="3.2" rx="0.7" fill="#222"/>
<rect x="143.9" y="525.7" width="2.3" height="3.2" rx="0.7" fill="#222"/>
<rect x="143.9" y="536.9" width="2.3" height="3.2" rx="0.7" fill="#222"/>
<rect x="143.9" y="548.0" width="2.3" height="3.2" rx="0.7" fill="#222"/>
<rect x="143.9" y="559.2" width="2.3" height="3.2" rx="0.7" fill="#222"/>
<rect x="143.9" y="569.7" width="2.3" height="3.2" rx="0.7" fill="#222"/>
<path d="M170.8,576.3h3.4v0.9l-1.7,1.2l-1.7,-1.2z" fill="#000"/>
<path d="M198.3,576.3h3.4v0.9l-1.7,1.2l-1.7,-1.2z" fill="#000"/>
<path d="M225.8,576.3h3.4v0.9l-1.7,1.2l-1.7,-1.2z" fill="#000"/>
<path d="M253.3,576.3h3.4v0.9l-1.7,1.2l-1.7,-1.2z" fill="#000"/>
<text x="180.0" y="586.2" font-size="6.6" font-weight="bold" fill="#000" stroke="#000" stroke-width="0.25" textLength="63.0" lengthAdjust="spacingAndGlyphs">HUMAN CD45 PE --&gt;</text>
<text transform="translate(144.2,496.3) rotate(-90)" x="0" y="0" font-size="7.8" font-weight="bold" fill="#000" text-anchor="middle" textLength="24.6" lengthAdjust="spacingAndGlyphs">Number</text>
<path d="M268.5,570.8L268.5,560.0L269.0,560.0L269.0,559.9L269.5,559.9L269.5,560.1L270.0,560.1L270.0,561.7L270.5,561.7L270.5,563.7L271.0,563.7L271.0,565.1L271.5,565.1L271.5,565.2L272.0,565.2L272.0,565.1L272.5,565.1L272.5,564.7L273.0,564.7L273.0,564.4L273.5,564.4L273.5,564.1L274.0,564.1L274.0,563.9L274.5,563.9L274.5,563.0L275.0,563.0L275.0,562.0L275.5,562.0L275.5,561.7L276.0,561.7L276.0,560.7L276.5,560.7L276.5,560.3L277.0,560.3L277.0,559.5L277.5,559.5L277.5,558.6L278.0,558.6L278.0,558.3L278.5,558.3L278.5,557.1L279.0,557.1L279.0,556.5L279.5,556.5L279.5,556.2L280.0,556.2L280.0,555.2L280.5,555.2L280.5,554.0L281.0,554.0L281.0,553.1L281.5,553.1L281.5,552.0L282.0,552.0L282.0,551.0L282.5,551.0L282.5,549.4L283.0,549.4L283.0,548.0L283.5,548.0L283.5,545.0L284.0,545.0L284.0,541.4L284.5,541.4L284.5,538.8L285.0,538.8L285.0,536.7L285.5,536.7L285.5,535.7L286.0,535.7L286.0,533.9L286.5,533.9L286.5,532.4L287.0,532.4L287.0,531.5L287.5,531.5L287.5,527.1L288.0,527.1L288.0,525.3L288.5,525.3L288.5,521.1L289.0,521.1L289.0,518.4L289.5,518.4L289.5,514.1L290.0,514.1L290.0,512.5L290.5,512.5L290.5,508.9L291.0,508.9L291.0,505.9L291.5,505.9L291.5,499.8L292.0,499.8L292.0,493.9L292.5,493.9L292.5,487.2L293.0,487.2L293.0,483.1L293.5,483.1L293.5,477.8L294.0,477.8L294.0,477.1L294.5,477.1L294.5,472.7L295.0,472.7L295.0,469.6L295.5,469.6L295.5,461.8L296.0,461.8L296.0,456.0L296.5,456.0L296.5,450.3L297.0,450.3L297.0,443.5L297.5,443.5L297.5,434.3L298.0,434.3L298.0,429.1L298.5,429.1L298.5,425.8L299.0,425.8L299.0,427.2L299.5,427.2L299.5,426.4L300.0,426.4L300.0,426.3L300.5,426.3L300.5,428.9L301.0,428.9L301.0,429.9L301.5,429.9L301.5,431.3L302.0,431.3L302.0,439.7L302.5,439.7L302.5,442.8L303.0,442.8L303.0,446.7L303.5,446.7L303.5,453.9L304.0,453.9L304.0,463.7L304.5,463.7L304.5,469.0L305.0,469.0L305.0,476.9L305.5,476.9L305.5,479.3L306.0,479.3L306.0,485.9L306.5,485.9L306.5,490.4L307.0,490.4L307.0,495.9L307.5,495.9L307.5,502.2L308.0,502.2L308.0,507.7L308.5,507.7L308.5,514.2L309.0,514.2L309.0,518.2L309.5,518.2L309.5,523.0L310.0,523.0L310.0,526.8L310.5,526.8L310.5,531.6L311.0,531.6L311.0,534.8L311.5,534.8L311.5,537.1L312.0,537.1L312.0,541.5L312.5,541.5L312.5,544.1L313.0,544.1L313.0,547.3L313.5,547.3L313.5,548.7L314.0,548.7L314.0,551.3L314.5,551.3L314.5,553.1L315.0,553.1L315.0,555.1L315.5,555.1L315.5,557.2L316.0,557.2L316.0,558.5L316.5,558.5L316.5,559.7L317.0,559.7L317.0,560.6L317.5,560.6L317.5,562.1L318.0,562.1L318.0,562.4L318.5,562.4L318.5,563.5L319.0,563.5L319.0,564.4L319.5,564.4L319.5,564.6L320.0,564.6L320.0,565.2L320.5,565.2L320.5,566.1L321.0,566.1L321.0,566.1L321.5,566.1L321.5,566.9L322.0,566.9L322.0,567.5L322.5,567.5L322.5,568.2L323.0,568.2L323.0,568.6L323.5,568.6L323.5,568.5L324.0,568.5L324.0,568.6L324.5,568.6L324.5,568.6L325.0,568.6L325.0,568.4L325.5,568.4L325.5,568.5L326.0,568.5L326.0,568.7L326.5,568.7L326.5,568.7L327.0,568.7L327.0,568.5L327.5,568.5L327.5,568.8L328.0,568.8L328.0,568.6L328.5,568.6L328.5,568.8L329.0,568.8L329.0,568.8L329.5,568.8L329.5,568.8L330.0,568.8L330.0,569.3L330.5,569.3L330.5,569.0L331.0,569.0L331.0,569.1L331.5,569.1L331.5,568.6L332.0,568.6L332.0,569.0L332.5,569.0L332.5,569.1L333.0,569.1L333.0,568.9L333.5,568.9L333.5,568.8L334.0,568.8L334.0,568.9L334.5,568.9L334.5,569.3L335.0,569.3L335.0,569.2L335.5,569.2L335.5,569.2L336.0,569.2L336.0,569.5L336.5,569.5L336.5,569.2L337.0,569.2L337.0,569.1L337.5,569.1L337.5,569.3L338.0,569.3L338.0,569.3L338.5,569.3L338.5,569.5L339.0,569.5L339.0,569.5L339.5,569.5L339.5,569.3L340.0,569.3L340.0,569.6L340.5,569.6L340.5,569.7L341.0,569.7L341.0,569.3L341.5,569.3L341.5,569.6L342.0,569.6L342.0,569.7L342.5,569.7L342.5,569.5L343.0,569.5L343.0,569.5L343.5,569.5L343.5,570.0L344.0,570.0L344.0,569.6L344.5,569.6L344.5,569.8L345.0,569.8L345.0,569.8L345.5,569.8L345.5,569.7L346.0,569.7L346.0,569.6L346.5,569.6L346.5,569.4L347.0,569.4L347.0,569.6L347.5,569.6L347.5,569.7L348.0,569.7L348.0,569.7L348.5,569.7L348.5,569.5L349.0,569.5L349.0,569.7L349.5,569.7L349.5,569.8L350.0,569.8L350.0,570.1L350.5,570.1L350.5,570.1L351.0,570.1L351.0,569.9L351.5,569.9L351.5,569.7L352.0,569.7L352.0,569.9L352.5,569.9L352.5,569.6L353.0,569.6L353.0,569.5L353.5,569.5L353.5,569.6L354.0,569.6L354.0,569.8L354.5,569.8L354.5,569.8L355.0,569.8L355.0,570.0L355.5,570.0L355.5,570.0L356.0,570.0L356.0,570.0L356.5,570.0L356.5,570.1L357.0,570.1L357.0,570.1L357.5,570.1L357.5,569.9L358.0,569.9L358.0,569.9L358.5,569.9L358.5,570.1L359.0,570.1L359.0,569.9L359.5,569.9L359.5,570.2L360.0,570.2L360.0,570.0L360.5,570.0L360.5,569.8L361.0,569.8L361.0,569.8L361.5,569.8L361.5,569.8L362.0,569.8L362.0,570.2L362.5,570.2L362.5,570.1L363.0,570.1L363.0,570.3L363.5,570.3L363.5,570.0L364.0,570.0L364.0,570.0L364.5,570.0L364.5,570.0L365.0,570.0L365.0,570.0L365.5,570.0L365.5,570.0L366.0,570.0L366.0,570.0L366.5,570.0L366.5,569.8L367.0,569.8L367.0,570.0L367.5,570.0L367.5,570.0L368.0,570.0L368.0,569.9L368.5,569.9L368.5,569.7L369.0,569.7L369.0,569.8L369.5,569.8L369.5,570.3L370.0,570.3L370.0,570.2L370.5,570.2L370.5,570.1L371.0,570.1L371.0,570.1L371.5,570.1L371.5,569.8L372.0,569.8L372.0,570.1L372.5,570.1L372.5,569.9L373.0,569.9L373.0,570.2L373.5,570.2L373.5,570.2L374.0,570.2L374.0,570.0L374.5,570.0L374.5,570.1L375.0,570.1L375.0,570.1L375.5,570.1L375.5,570.2L376.0,570.2L376.0,570.2L376.5,570.2L376.5,570.2L377.0,570.2L377.0,570.3L377.5,570.3L377.5,570.1L378.0,570.1L378.0,570.3L378.5,570.3L378.5,570.8Z" fill="#000"/>
<rect x="268.5" y="570.5" width="110.0" height="0.9" fill="#333"/>
<rect x="268.1" y="421.5" width="0.8" height="149.3" fill="#b4b4b4"/>
<rect x="268.1" y="489.0" width="0.9" height="81.8" fill="#858585"/>
<rect x="264.6" y="421.9" width="2.3" height="3.2" rx="0.7" fill="#222"/>
<rect x="264.6" y="440.9" width="2.3" height="3.2" rx="0.7" fill="#222"/>
<rect x="264.6" y="463.1" width="2.3" height="3.2" rx="0.7" fill="#222"/>
<rect x="264.6" y="473.8" width="2.3" height="3.2" rx="0.7" fill="#222"/>
<rect x="264.6" y="484.5" width="2.3" height="3.2" rx="0.7" fill="#222"/>
<rect x="264.6" y="495.1" width="2.3" height="3.2" rx="0.7" fill="#222"/>
<rect x="264.6" y="505.8" width="2.3" height="3.2" rx="0.7" fill="#222"/>
<rect x="264.6" y="516.5" width="2.3" height="3.2" rx="0.7" fill="#222"/>
<rect x="264.6" y="527.2" width="2.3" height="3.2" rx="0.7" fill="#222"/>
<rect x="264.6" y="537.8" width="2.3" height="3.2" rx="0.7" fill="#222"/>
<rect x="264.6" y="548.5" width="2.3" height="3.2" rx="0.7" fill="#222"/>
<rect x="264.6" y="559.2" width="2.3" height="3.2" rx="0.7" fill="#222"/>
<rect x="264.6" y="570.2" width="2.3" height="3.2" rx="0.7" fill="#222"/>
<path d="M292.1,576.3h3.4v0.9l-1.7,1.2l-1.7,-1.2z" fill="#000"/>
<path d="M319.1,576.3h3.4v0.9l-1.7,1.2l-1.7,-1.2z" fill="#000"/>
<path d="M347.1,576.3h3.4v0.9l-1.7,1.2l-1.7,-1.2z" fill="#000"/>
<path d="M374.6,576.3h3.4v0.9l-1.7,1.2l-1.7,-1.2z" fill="#000"/>
<text x="307.0" y="586.2" font-size="6.6" font-weight="bold" fill="#000" stroke="#000" stroke-width="0.25" textLength="39.2" lengthAdjust="spacingAndGlyphs">CD3 FITC --&gt;</text>
<text transform="translate(266.0,496.3) rotate(-90)" x="0" y="0" font-size="7.8" font-weight="bold" fill="#000" text-anchor="middle" textLength="24.6" lengthAdjust="spacingAndGlyphs">Number</text>
<path d="M389.3,570.8L389.3,530.9L389.8,530.9L389.8,529.4L390.3,529.4L390.3,528.4L390.8,528.4L390.8,524.8L391.3,524.8L391.3,525.2L391.8,525.2L391.8,524.3L392.3,524.3L392.3,523.4L392.8,523.4L392.8,518.3L393.3,518.3L393.3,519.9L393.8,519.9L393.8,518.8L394.3,518.8L394.3,517.1L394.8,517.1L394.8,516.9L395.3,516.9L395.3,515.9L395.8,515.9L395.8,518.7L396.3,518.7L396.3,515.4L396.8,515.4L396.8,513.0L397.3,513.0L397.3,511.1L397.8,511.1L397.8,508.2L398.3,508.2L398.3,508.0L398.8,508.0L398.8,505.3L399.3,505.3L399.3,502.0L399.8,502.0L399.8,499.3L400.3,499.3L400.3,499.6L400.8,499.6L400.8,498.6L401.3,498.6L401.3,498.9L401.8,498.9L401.8,498.7L402.3,498.7L402.3,494.1L402.8,494.1L402.8,491.4L403.3,491.4L403.3,492.9L403.8,492.9L403.8,486.2L404.3,486.2L404.3,486.1L404.8,486.1L404.8,480.7L405.3,480.7L405.3,478.9L405.8,478.9L405.8,474.8L406.3,474.8L406.3,470.5L406.8,470.5L406.8,470.5L407.3,470.5L407.3,465.0L407.8,465.0L407.8,473.1L408.3,473.1L408.3,469.3L408.8,469.3L408.8,459.5L409.3,459.5L409.3,460.8L409.8,460.8L409.8,458.1L410.3,458.1L410.3,451.8L410.8,451.8L410.8,455.2L411.3,455.2L411.3,460.1L411.8,460.1L411.8,449.4L412.3,449.4L412.3,449.7L412.8,449.7L412.8,445.3L413.3,445.3L413.3,450.3L413.8,450.3L413.8,437.7L414.3,437.7L414.3,440.3L414.8,440.3L414.8,438.1L415.3,438.1L415.3,437.7L415.8,437.7L415.8,430.4L416.3,430.4L416.3,434.8L416.8,434.8L416.8,430.6L417.3,430.6L417.3,437.2L417.8,437.2L417.8,429.0L418.3,429.0L418.3,435.9L418.8,435.9L418.8,431.0L419.3,431.0L419.3,437.9L419.8,437.9L419.8,426.8L420.3,426.8L420.3,426.8L420.8,426.8L420.8,428.4L421.3,428.4L421.3,427.4L421.8,427.4L421.8,441.0L422.3,441.0L422.3,445.0L422.8,445.0L422.8,448.7L423.3,448.7L423.3,454.7L423.8,454.7L423.8,463.2L424.3,463.2L424.3,460.8L424.8,460.8L424.8,461.7L425.3,461.7L425.3,466.3L425.8,466.3L425.8,473.0L426.3,473.0L426.3,476.9L426.8,476.9L426.8,481.4L427.3,481.4L427.3,487.9L427.8,487.9L427.8,497.0L428.3,497.0L428.3,500.5L428.8,500.5L428.8,508.1L429.3,508.1L429.3,510.8L429.8,510.8L429.8,516.4L430.3,516.4L430.3,522.6L430.8,522.6L430.8,525.4L431.3,525.4L431.3,528.0L431.8,528.0L431.8,531.5L432.3,531.5L432.3,534.1L432.8,534.1L432.8,537.5L433.3,537.5L433.3,540.8L433.8,540.8L433.8,543.8L434.3,543.8L434.3,547.0L434.8,547.0L434.8,550.3L435.3,550.3L435.3,553.3L435.8,553.3L435.8,554.4L436.3,554.4L436.3,555.9L436.8,555.9L436.8,558.0L437.3,558.0L437.3,560.2L437.8,560.2L437.8,562.3L438.3,562.3L438.3,563.6L438.8,563.6L438.8,564.2L439.3,564.2L439.3,565.8L439.8,565.8L439.8,567.3L440.3,567.3L440.3,567.0L440.8,567.0L440.8,567.6L441.3,567.6L441.3,567.4L441.8,567.4L441.8,568.1L442.3,568.1L442.3,568.5L442.8,568.5L442.8,568.6L443.3,568.6L443.3,568.3L443.8,568.3L443.8,569.2L444.3,569.2L444.3,569.0L444.8,569.0L444.8,568.9L445.3,568.9L445.3,569.5L445.8,569.5L445.8,569.2L446.3,569.2L446.3,569.3L446.8,569.3L446.8,568.7L447.3,568.7L447.3,569.0L447.8,569.0L447.8,568.6L448.3,568.6L448.3,569.1L448.8,569.1L448.8,569.3L449.3,569.3L449.3,569.1L449.8,569.1L449.8,569.4L450.3,569.4L450.3,568.9L450.8,568.9L450.8,569.2L451.3,569.2L451.3,569.3L451.8,569.3L451.8,569.5L452.3,569.5L452.3,568.9L452.8,568.9L452.8,569.0L453.3,569.0L453.3,569.4L453.8,569.4L453.8,569.2L454.3,569.2L454.3,569.3L454.8,569.3L454.8,569.4L455.3,569.4L455.3,569.1L455.8,569.1L455.8,569.1L456.3,569.1L456.3,569.7L456.8,569.7L456.8,569.1L457.3,569.1L457.3,568.8L457.8,568.8L457.8,569.3L458.3,569.3L458.3,569.4L458.8,569.4L458.8,569.4L459.3,569.4L459.3,569.1L459.8,569.1L459.8,569.4L460.3,569.4L460.3,569.8L460.8,569.8L460.8,569.5L461.3,569.5L461.3,569.4L461.8,569.4L461.8,569.5L462.3,569.5L462.3,569.3L462.8,569.3L462.8,569.2L463.3,569.2L463.3,569.5L463.8,569.5L463.8,569.5L464.3,569.5L464.3,568.7L464.8,568.7L464.8,569.6L465.3,569.6L465.3,569.5L465.8,569.5L465.8,569.6L466.3,569.6L466.3,569.3L466.8,569.3L466.8,569.9L467.3,569.9L467.3,569.6L467.8,569.6L467.8,569.2L468.3,569.2L468.3,569.2L468.8,569.2L468.8,569.3L469.3,569.3L469.3,569.6L469.8,569.6L469.8,569.8L470.3,569.8L470.3,569.6L470.8,569.6L470.8,569.6L471.3,569.6L471.3,569.5L471.8,569.5L471.8,569.3L472.3,569.3L472.3,569.0L472.8,569.0L472.8,568.9L473.3,568.9L473.3,569.6L473.8,569.6L473.8,569.6L474.3,569.6L474.3,569.5L474.8,569.5L474.8,569.8L475.3,569.8L475.3,568.9L475.8,568.9L475.8,569.6L476.3,569.6L476.3,569.5L476.8,569.5L476.8,569.6L477.3,569.6L477.3,569.4L477.8,569.4L477.8,569.6L478.3,569.6L478.3,569.8L478.8,569.8L478.8,569.6L479.3,569.6L479.3,569.4L479.8,569.4L479.8,569.6L480.3,569.6L480.3,569.9L480.8,569.9L480.8,569.2L481.3,569.2L481.3,570.1L481.8,570.1L481.8,569.9L482.3,569.9L482.3,569.6L482.8,569.6L482.8,569.2L483.3,569.2L483.3,569.5L483.8,569.5L483.8,569.5L484.3,569.5L484.3,569.4L484.8,569.4L484.8,569.7L485.3,569.7L485.3,569.8L485.8,569.8L485.8,570.4L486.3,570.4L486.3,570.3L486.8,570.3L486.8,569.5L487.3,569.5L487.3,569.8L487.8,569.8L487.8,569.8L488.3,569.8L488.3,569.7L488.8,569.7L488.8,569.3L489.3,569.3L489.3,569.8L489.8,569.8L489.8,569.9L490.3,569.9L490.3,569.7L490.8,569.7L490.8,570.0L491.3,570.0L491.3,569.8L491.8,569.8L491.8,570.1L492.3,570.1L492.3,569.2L492.8,569.2L492.8,569.7L493.3,569.7L493.3,569.3L493.8,569.3L493.8,569.6L494.3,569.6L494.3,569.9L494.8,569.9L494.8,569.8L495.3,569.8L495.3,570.0L495.8,570.0L495.8,570.3L496.3,570.3L496.3,570.2L496.8,570.2L496.8,569.8L497.3,569.8L497.3,570.1L497.8,570.1L497.8,570.1L498.3,570.1L498.3,569.7L498.8,569.7L498.5,570.8Z" fill="#000"/>
<rect x="389.3" y="570.5" width="109.2" height="0.9" fill="#333"/>
<rect x="388.9" y="421.5" width="0.8" height="149.3" fill="#b4b4b4"/>
<rect x="388.9" y="421.5" width="0.9" height="149.3" fill="#858585"/>
<rect x="385.2" y="420.8" width="2.3" height="3.2" rx="0.7" fill="#222"/>
<rect x="385.2" y="437.3" width="2.3" height="3.2" rx="0.7" fill="#222"/>
<rect x="385.2" y="453.8" width="2.3" height="3.2" rx="0.7" fill="#222"/>
<rect x="385.2" y="470.3" width="2.3" height="3.2" rx="0.7" fill="#222"/>
<rect x="385.2" y="486.8" width="2.3" height="3.2" rx="0.7" fill="#222"/>
<rect x="385.2" y="503.3" width="2.3" height="3.2" rx="0.7" fill="#222"/>
<rect x="385.2" y="519.8" width="2.3" height="3.2" rx="0.7" fill="#222"/>
<rect x="385.2" y="536.3" width="2.3" height="3.2" rx="0.7" fill="#222"/>
<rect x="385.2" y="552.8" width="2.3" height="3.2" rx="0.7" fill="#222"/>
<rect x="385.2" y="569.7" width="2.3" height="3.2" rx="0.7" fill="#222"/>
<path d="M412.0,576.3h3.4v0.9l-1.7,1.2l-1.7,-1.2z" fill="#000"/>
<path d="M440.2,576.3h3.4v0.9l-1.7,1.2l-1.7,-1.2z" fill="#000"/>
<path d="M467.2,576.3h3.4v0.9l-1.7,1.2l-1.7,-1.2z" fill="#000"/>
<path d="M494.6,576.3h3.4v0.9l-1.7,1.2l-1.7,-1.2z" fill="#000"/>
<text x="427.8" y="586.2" font-size="6.6" font-weight="bold" fill="#000" stroke="#000" stroke-width="0.25" textLength="43.0" lengthAdjust="spacingAndGlyphs">CD4 PerCP --&gt;</text>
<text transform="translate(384.4,496.0) rotate(-90)" x="0" y="0" font-size="7.8" font-weight="bold" fill="#000" text-anchor="middle" textLength="24.6" lengthAdjust="spacingAndGlyphs">Number</text>
<path d="M25.2,736.2L25.2,725.0L25.7,725.0L25.7,723.8L26.2,723.8L26.2,723.8L26.7,723.8L26.7,721.4L27.2,721.4L27.2,721.6L27.7,721.6L27.7,720.9L28.2,720.9L28.2,721.1L28.7,721.1L28.7,718.9L29.2,718.9L29.2,720.8L29.7,720.8L29.7,720.4L30.2,720.4L30.2,719.0L30.7,719.0L30.7,718.3L31.2,718.3L31.2,719.4L31.7,719.4L31.7,717.4L32.2,717.4L32.2,717.7L32.7,717.7L32.7,717.6L33.2,717.6L33.2,716.3L33.7,716.3L33.7,713.9L34.2,713.9L34.2,712.5L34.7,712.5L34.7,710.4L35.2,710.4L35.2,710.3L35.7,710.3L35.7,709.1L36.2,709.1L36.2,707.3L36.7,707.3L36.7,707.1L37.2,707.1L37.2,705.3L37.7,705.3L37.7,703.5L38.2,703.5L38.2,702.5L38.7,702.5L38.7,701.8L39.2,701.8L39.2,699.2L39.7,699.2L39.7,697.5L40.2,697.5L40.2,697.7L40.7,697.7L40.7,694.1L41.2,694.1L41.2,691.0L41.7,691.0L41.7,691.2L42.2,691.2L42.2,690.1L42.7,690.1L42.7,683.8L43.2,683.8L43.2,684.7L43.7,684.7L43.7,681.1L44.2,681.1L44.2,679.6L44.7,679.6L44.7,673.0L45.2,673.0L45.2,672.3L45.7,672.3L45.7,668.7L46.2,668.7L46.2,660.3L46.7,660.3L46.7,658.9L47.2,658.9L47.2,656.6L47.7,656.6L47.7,653.6L48.2,653.6L48.2,647.0L48.7,647.0L48.7,642.0L49.2,642.0L49.2,641.5L49.7,641.5L49.7,633.6L50.2,633.6L50.2,624.4L50.7,624.4L50.7,620.8L51.2,620.8L51.2,616.0L51.7,616.0L51.7,608.5L52.2,608.5L52.2,609.7L52.7,609.7L52.7,600.2L53.2,600.2L53.2,600.7L53.7,600.7L53.7,592.7L54.2,592.7L54.2,590.1L54.7,590.1L54.7,598.3L55.2,598.3L55.2,599.9L55.7,599.9L55.7,601.5L56.2,601.5L56.2,600.3L56.7,600.3L56.7,598.9L57.2,598.9L57.2,588.8L57.7,588.8L57.7,594.3L58.2,594.3L58.2,600.8L58.7,600.8L58.7,610.0L59.2,610.0L59.2,614.9L59.7,614.9L59.7,622.9L60.2,622.9L60.2,628.1L60.7,628.1L60.7,634.3L61.2,634.3L61.2,642.7L61.7,642.7L61.7,653.5L62.2,653.5L62.2,658.7L62.7,658.7L62.7,666.2L63.2,666.2L63.2,673.1L63.7,673.1L63.7,679.0L64.2,679.0L64.2,686.6L64.7,686.6L64.7,694.5L65.2,694.5L65.2,700.1L65.7,700.1L65.7,704.8L66.2,704.8L66.2,706.9L66.7,706.9L66.7,709.6L67.2,709.6L67.2,713.8L67.7,713.8L67.7,716.4L68.2,716.4L68.2,718.3L68.7,718.3L68.7,720.5L69.2,720.5L69.2,722.5L69.7,722.5L69.7,725.6L70.2,725.6L70.2,725.7L70.7,725.7L70.7,726.8L71.2,726.8L71.2,727.5L71.7,727.5L71.7,728.7L72.2,728.7L72.2,729.9L72.7,729.9L72.7,730.5L73.2,730.5L73.2,730.7L73.7,730.7L73.7,731.8L74.2,731.8L74.2,731.6L74.7,731.6L74.7,732.6L75.2,732.6L75.2,732.4L75.7,732.4L75.7,733.3L76.2,733.3L76.2,733.1L76.7,733.1L76.7,733.9L77.2,733.9L77.2,734.1L77.7,734.1L77.7,734.1L78.2,734.1L78.2,734.0L78.7,734.0L78.7,734.0L79.2,734.0L79.2,734.0L79.7,734.0L79.7,734.0L80.2,734.0L80.2,733.7L80.7,733.7L80.7,733.9L81.2,733.9L81.2,734.1L81.7,734.1L81.7,734.3L82.2,734.3L82.2,734.4L82.7,734.4L82.7,734.2L83.2,734.2L83.2,734.7L83.7,734.7L83.7,734.3L84.2,734.3L84.2,734.3L84.7,734.3L84.7,734.2L85.2,734.2L85.2,734.3L85.7,734.3L85.7,734.3L86.2,734.3L86.2,734.3L86.7,734.3L86.7,734.1L87.2,734.1L87.2,734.5L87.7,734.5L87.7,735.0L88.2,735.0L88.2,734.6L88.7,734.6L88.7,734.6L89.2,734.6L89.2,734.4L89.7,734.4L89.7,734.7L90.2,734.7L90.2,734.0L90.7,734.0L90.7,734.9L91.2,734.9L91.2,734.9L91.7,734.9L91.7,734.2L92.2,734.2L92.2,734.4L92.7,734.4L92.7,734.4L93.2,734.4L93.2,734.7L93.7,734.7L93.7,735.2L94.2,735.2L94.2,734.7L94.7,734.7L94.7,734.8L95.2,734.8L95.2,734.8L95.7,734.8L95.7,734.8L96.2,734.8L96.2,734.8L96.7,734.8L96.7,734.9L97.2,734.9L97.2,734.8L97.7,734.8L97.7,734.9L98.2,734.9L98.2,735.0L98.7,735.0L98.7,735.0L99.2,735.0L99.2,734.9L99.7,734.9L99.7,735.1L100.2,735.1L100.2,734.9L100.7,734.9L100.7,735.2L101.2,735.2L101.2,735.2L101.7,735.2L101.7,735.3L102.2,735.3L102.2,735.5L102.7,735.5L102.7,735.2L103.2,735.2L103.2,735.1L103.7,735.1L103.7,734.9L104.2,734.9L104.2,734.5L104.7,734.5L104.7,735.0L105.2,735.0L105.2,735.0L105.7,735.0L105.7,735.0L106.2,735.0L106.2,734.9L106.7,734.9L106.7,735.3L107.2,735.3L107.2,735.2L107.7,735.2L107.7,735.1L108.2,735.1L108.2,734.6L108.7,734.6L108.7,735.2L109.2,735.2L109.2,735.4L109.7,735.4L109.7,735.2L110.2,735.2L110.2,735.2L110.7,735.2L110.7,735.1L111.2,735.1L111.2,735.3L111.7,735.3L111.7,735.0L112.2,735.0L112.2,735.2L112.7,735.2L112.7,735.1L113.2,735.1L113.2,735.2L113.7,735.2L113.7,735.6L114.2,735.6L114.2,735.3L114.7,735.3L114.7,734.8L115.2,734.8L115.2,735.7L115.7,735.7L115.7,735.1L116.2,735.1L116.2,735.3L116.7,735.3L116.7,735.2L117.2,735.2L117.2,735.2L117.7,735.2L117.7,735.2L118.2,735.2L118.2,735.2L118.7,735.2L118.7,734.9L119.2,734.9L119.2,734.9L119.7,734.9L119.7,735.2L120.2,735.2L120.2,735.2L120.7,735.2L120.7,735.3L121.2,735.3L121.2,735.3L121.7,735.3L121.7,735.1L122.2,735.1L122.2,735.2L122.7,735.2L122.7,734.8L123.2,734.8L123.2,735.4L123.7,735.4L123.7,735.0L124.2,735.0L124.2,734.8L124.7,734.8L124.7,735.1L125.2,735.1L125.2,735.4L125.7,735.4L125.7,735.3L126.2,735.3L126.2,735.3L126.7,735.3L126.7,735.3L127.2,735.3L127.2,735.3L127.7,735.3L127.7,735.5L128.2,735.5L128.2,735.0L128.7,735.0L128.7,735.4L129.2,735.4L129.2,735.4L129.7,735.4L129.7,735.4L130.2,735.4L130.2,735.2L130.7,735.2L130.7,735.5L131.2,735.5L131.2,735.6L131.7,735.6L131.7,735.3L132.2,735.3L132.2,735.4L132.7,735.4L132.7,735.4L133.2,735.4L133.2,735.3L133.7,735.3L133.7,735.7L134.2,735.7L134.2,735.3L134.7,735.3L134.7,735.9L135.2,735.9L135.2,735.5L135.7,735.5L135.7,735.7L136.2,735.7L136.0,736.2Z" fill="#000"/>
<rect x="25.2" y="735.9" width="110.8" height="0.9" fill="#333"/>
<rect x="24.8" y="589.4" width="0.8" height="146.8" fill="#b4b4b4"/>
<rect x="24.8" y="656.0" width="0.9" height="80.2" fill="#858585"/>
<rect x="22.0" y="598.4" width="2.3" height="3.2" rx="0.7" fill="#222"/>
<rect x="22.0" y="609.8" width="2.3" height="3.2" rx="0.7" fill="#222"/>
<rect x="22.0" y="621.2" width="2.3" height="3.2" rx="0.7" fill="#222"/>
<rect x="22.0" y="632.5" width="2.3" height="3.2" rx="0.7" fill="#222"/>
<rect x="22.0" y="643.9" width="2.3" height="3.2" rx="0.7" fill="#222"/>
<rect x="22.0" y="655.3" width="2.3" height="3.2" rx="0.7" fill="#222"/>
<rect x="22.0" y="666.7" width="2.3" height="3.2" rx="0.7" fill="#222"/>
<rect x="22.0" y="678.1" width="2.3" height="3.2" rx="0.7" fill="#222"/>
<rect x="22.0" y="689.5" width="2.3" height="3.2" rx="0.7" fill="#222"/>
<rect x="22.0" y="700.8" width="2.3" height="3.2" rx="0.7" fill="#222"/>
<rect x="22.0" y="712.2" width="2.3" height="3.2" rx="0.7" fill="#222"/>
<rect x="22.0" y="723.6" width="2.3" height="3.2" rx="0.7" fill="#222"/>
<rect x="22.0" y="735.7" width="2.3" height="3.2" rx="0.7" fill="#222"/>
<path d="M50.3,741.2h3.4v0.9l-1.7,1.2l-1.7,-1.2z" fill="#000"/>
<path d="M77.0,741.2h3.4v0.9l-1.7,1.2l-1.7,-1.2z" fill="#000"/>
<path d="M104.5,741.2h3.4v0.9l-1.7,1.2l-1.7,-1.2z" fill="#000"/>
<path d="M132.6,741.2h3.4v0.9l-1.7,1.2l-1.7,-1.2z" fill="#000"/>
<text x="67.0" y="750.2" font-size="6.6" font-weight="bold" fill="#000" stroke="#000" stroke-width="0.25" textLength="31.8" lengthAdjust="spacingAndGlyphs">CD8 PE --&gt;</text>
<text transform="translate(21.9,661.2) rotate(-90)" x="0" y="0" font-size="7.8" font-weight="bold" fill="#000" text-anchor="middle" textLength="24.6" lengthAdjust="spacingAndGlyphs">Number</text>
<path d="M147.2,736.2L147.2,722.8L147.7,722.8L147.7,723.3L148.2,723.3L148.2,722.3L148.7,722.3L148.7,722.8L149.2,722.8L149.2,721.9L149.7,721.9L149.7,721.6L150.2,721.6L150.2,721.3L150.7,721.3L150.7,722.1L151.2,722.1L151.2,722.6L151.7,722.6L151.7,723.1L152.2,723.1L152.2,722.7L152.7,722.7L152.7,722.5L153.2,722.5L153.2,720.5L153.7,720.5L153.7,717.5L154.2,717.5L154.2,716.5L154.7,716.5L154.7,714.4L155.2,714.4L155.2,713.2L155.7,713.2L155.7,711.8L156.2,711.8L156.2,711.1L156.7,711.1L156.7,709.9L157.2,709.9L157.2,708.6L157.7,708.6L157.7,708.2L158.2,708.2L158.2,705.6L158.7,705.6L158.7,703.6L159.2,703.6L159.2,702.4L159.7,702.4L159.7,701.9L160.2,701.9L160.2,701.8L160.7,701.8L160.7,698.7L161.2,698.7L161.2,697.4L161.7,697.4L161.7,698.4L162.2,698.4L162.2,695.8L162.7,695.8L162.7,695.2L163.2,695.2L163.2,691.6L163.7,691.6L163.7,686.7L164.2,686.7L164.2,681.2L164.7,681.2L164.7,677.7L165.2,677.7L165.2,672.2L165.7,672.2L165.7,663.8L166.2,663.8L166.2,661.0L166.7,661.0L166.7,657.9L167.2,657.9L167.2,652.7L167.7,652.7L167.7,647.9L168.2,647.9L168.2,648.4L168.7,648.4L168.7,646.7L169.2,646.7L169.2,642.6L169.7,642.6L169.7,637.0L170.2,637.0L170.2,638.1L170.7,638.1L170.7,635.8L171.2,635.8L171.2,629.3L171.7,629.3L171.7,627.6L172.2,627.6L172.2,620.0L172.7,620.0L172.7,621.2L173.2,621.2L173.2,615.1L173.7,615.1L173.7,605.2L174.2,605.2L174.2,607.0L174.7,607.0L174.7,601.7L175.2,601.7L175.2,600.2L175.7,600.2L175.7,595.9L176.2,595.9L176.2,593.0L176.7,593.0L176.7,593.5L177.2,593.5L177.2,599.2L177.7,599.2L177.7,598.5L178.2,598.5L178.2,596.6L178.7,596.6L178.7,605.4L179.2,605.4L179.2,611.5L179.7,611.5L179.7,615.2L180.2,615.2L180.2,620.2L180.7,620.2L180.7,629.8L181.2,629.8L181.2,635.5L181.7,635.5L181.7,635.2L182.2,635.2L182.2,639.6L182.7,639.6L182.7,644.3L183.2,644.3L183.2,648.4L183.7,648.4L183.7,653.2L184.2,653.2L184.2,658.2L184.7,658.2L184.7,663.0L185.2,663.0L185.2,667.2L185.7,667.2L185.7,672.3L186.2,672.3L186.2,675.1L186.7,675.1L186.7,680.0L187.2,680.0L187.2,685.8L187.7,685.8L187.7,691.1L188.2,691.1L188.2,694.9L188.7,694.9L188.7,698.7L189.2,698.7L189.2,702.9L189.7,702.9L189.7,704.9L190.2,704.9L190.2,708.1L190.7,708.1L190.7,711.4L191.2,711.4L191.2,712.7L191.7,712.7L191.7,716.3L192.2,716.3L192.2,718.7L192.7,718.7L192.7,720.9L193.2,720.9L193.2,723.3L193.7,723.3L193.7,724.2L194.2,724.2L194.2,726.3L194.7,726.3L194.7,727.2L195.2,727.2L195.2,727.9L195.7,727.9L195.7,729.7L196.2,729.7L196.2,730.6L196.7,730.6L196.7,730.8L197.2,730.8L197.2,731.6L197.7,731.6L197.7,732.1L198.2,732.1L198.2,732.5L198.7,732.5L198.7,733.1L199.2,733.1L199.2,733.1L199.7,733.1L199.7,734.3L200.2,734.3L200.2,734.0L200.7,734.0L200.7,733.6L201.2,733.6L201.2,733.9L201.7,733.9L201.7,734.3L202.2,734.3L202.2,734.2L202.7,734.2L202.7,733.7L203.2,733.7L203.2,734.1L203.7,734.1L203.7,734.2L204.2,734.2L204.2,734.1L204.7,734.1L204.7,734.3L205.2,734.3L205.2,734.1L205.7,734.1L205.7,734.2L206.2,734.2L206.2,733.9L206.7,733.9L206.7,734.7L207.2,734.7L207.2,734.1L207.7,734.1L207.7,734.3L208.2,734.3L208.2,734.3L208.7,734.3L208.7,734.5L209.2,734.5L209.2,734.0L209.7,734.0L209.7,734.4L210.2,734.4L210.2,734.3L210.7,734.3L210.7,734.3L211.2,734.3L211.2,734.3L211.7,734.3L211.7,734.8L212.2,734.8L212.2,734.4L212.7,734.4L212.7,734.5L213.2,734.5L213.2,734.2L213.7,734.2L213.7,734.9L214.2,734.9L214.2,734.5L214.7,734.5L214.7,734.4L215.2,734.4L215.2,734.6L215.7,734.6L215.7,734.7L216.2,734.7L216.2,735.1L216.7,735.1L216.7,734.8L217.2,734.8L217.2,734.7L217.7,734.7L217.7,734.8L218.2,734.8L218.2,734.7L218.7,734.7L218.7,735.1L219.2,735.1L219.2,734.6L219.7,734.6L219.7,734.8L220.2,734.8L220.2,734.9L220.7,734.9L220.7,734.8L221.2,734.8L221.2,734.8L221.7,734.8L221.7,734.8L222.2,734.8L222.2,734.8L222.7,734.8L222.7,734.8L223.2,734.8L223.2,735.0L223.7,735.0L223.7,734.8L224.2,734.8L224.2,735.2L224.7,735.2L224.7,735.0L225.2,735.0L225.2,735.0L225.7,735.0L225.7,734.9L226.2,734.9L226.2,735.0L226.7,735.0L226.7,735.1L227.2,735.1L227.2,735.2L227.7,735.2L227.7,734.5L228.2,734.5L228.2,734.5L228.7,734.5L228.7,734.8L229.2,734.8L229.2,734.9L229.7,734.9L229.7,735.2L230.2,735.2L230.2,735.3L230.7,735.3L230.7,734.8L231.2,734.8L231.2,735.4L231.7,735.4L231.7,735.2L232.2,735.2L232.2,735.2L232.7,735.2L232.7,735.1L233.2,735.1L233.2,735.1L233.7,735.1L233.7,735.0L234.2,735.0L234.2,735.4L234.7,735.4L234.7,735.1L235.2,735.1L235.2,735.0L235.7,735.0L235.7,735.1L236.2,735.1L236.2,735.0L236.7,735.0L236.7,734.8L237.2,734.8L237.2,735.3L237.7,735.3L237.7,734.8L238.2,734.8L238.2,735.5L238.7,735.5L238.7,734.7L239.2,734.7L239.2,735.1L239.7,735.1L239.7,735.1L240.2,735.1L240.2,735.1L240.7,735.1L240.7,735.1L241.2,735.1L241.2,735.2L241.7,735.2L241.7,735.3L242.2,735.3L242.2,735.0L242.7,735.0L242.7,735.1L243.2,735.1L243.2,735.1L243.7,735.1L243.7,735.6L244.2,735.6L244.2,735.2L244.7,735.2L244.7,735.2L245.2,735.2L245.2,735.6L245.7,735.6L245.7,735.1L246.2,735.1L246.2,735.2L246.7,735.2L246.7,735.4L247.2,735.4L247.2,735.2L247.7,735.2L247.7,735.4L248.2,735.4L248.2,735.5L248.7,735.5L248.7,735.4L249.2,735.4L249.2,735.4L249.7,735.4L249.7,735.5L250.2,735.5L250.2,735.3L250.7,735.3L250.7,735.8L251.2,735.8L251.2,735.4L251.7,735.4L251.7,735.1L252.2,735.1L252.2,735.5L252.7,735.5L252.7,735.4L253.2,735.4L253.2,735.4L253.7,735.4L253.7,735.5L254.2,735.5L254.2,735.5L254.7,735.5L254.7,735.5L255.2,735.5L255.2,735.4L255.7,735.4L255.7,735.2L256.2,735.2L256.2,735.6L256.7,735.6L256.5,736.2Z" fill="#000"/>
<rect x="147.2" y="735.9" width="109.3" height="0.9" fill="#333"/>
<rect x="146.8" y="592.0" width="0.8" height="144.2" fill="#b4b4b4"/>
<rect x="146.8" y="659.0" width="0.9" height="77.2" fill="#858585"/>
<rect x="143.5" y="594.7" width="2.3" height="3.2" rx="0.7" fill="#222"/>
<rect x="143.5" y="606.3" width="2.3" height="3.2" rx="0.7" fill="#222"/>
<rect x="143.5" y="617.9" width="2.3" height="3.2" rx="0.7" fill="#222"/>
<rect x="143.5" y="629.4" width="2.3" height="3.2" rx="0.7" fill="#222"/>
<rect x="143.5" y="641.0" width="2.3" height="3.2" rx="0.7" fill="#222"/>
<rect x="143.5" y="652.6" width="2.3" height="3.2" rx="0.7" fill="#222"/>
<rect x="143.5" y="664.2" width="2.3" height="3.2" rx="0.7" fill="#222"/>
<rect x="143.5" y="675.8" width="2.3" height="3.2" rx="0.7" fill="#222"/>
<rect x="143.5" y="687.4" width="2.3" height="3.2" rx="0.7" fill="#222"/>
<rect x="143.5" y="698.9" width="2.3" height="3.2" rx="0.7" fill="#222"/>
<rect x="143.5" y="710.5" width="2.3" height="3.2" rx="0.7" fill="#222"/>
<rect x="143.5" y="722.1" width="2.3" height="3.2" rx="0.7" fill="#222"/>
<rect x="143.5" y="734.2" width="2.3" height="3.2" rx="0.7" fill="#222"/>
<path d="M170.8,741.2h3.4v0.9l-1.7,1.2l-1.7,-1.2z" fill="#000"/>
<path d="M198.3,741.2h3.4v0.9l-1.7,1.2l-1.7,-1.2z" fill="#000"/>
<path d="M225.8,741.2h3.4v0.9l-1.7,1.2l-1.7,-1.2z" fill="#000"/>
<path d="M253.8,741.2h3.4v0.9l-1.7,1.2l-1.7,-1.2z" fill="#000"/>
<text x="186.2" y="750.2" font-size="6.6" font-weight="bold" fill="#000" stroke="#000" stroke-width="0.25" textLength="41.8" lengthAdjust="spacingAndGlyphs">CD10 FITC --&gt;</text>
<text transform="translate(143.1,660.7) rotate(-90)" x="0" y="0" font-size="7.8" font-weight="bold" fill="#000" text-anchor="middle" textLength="24.6" lengthAdjust="spacingAndGlyphs">Number</text>
<path d="M268.5,736.2L268.5,733.9L269.0,733.9L269.0,733.4L269.5,733.4L269.5,732.8L270.0,732.8L270.0,733.4L270.5,733.4L270.5,733.5L271.0,733.5L271.0,733.7L271.5,733.7L271.5,734.0L272.0,734.0L272.0,733.6L272.5,733.6L272.5,733.0L273.0,733.0L273.0,733.6L273.5,733.6L273.5,734.0L274.0,734.0L274.0,733.3L274.5,733.3L274.5,734.5L275.0,734.5L275.0,734.3L275.5,734.3L275.5,733.8L276.0,733.8L276.0,733.7L276.5,733.7L276.5,733.9L277.0,733.9L277.0,733.3L277.5,733.3L277.5,733.5L278.0,733.5L278.0,733.0L278.5,733.0L278.5,733.3L279.0,733.3L279.0,732.5L279.5,732.5L279.5,731.9L280.0,731.9L280.0,731.8L280.5,731.8L280.5,731.0L281.0,731.0L281.0,730.1L281.5,730.1L281.5,729.5L282.0,729.5L282.0,729.1L282.5,729.1L282.5,729.2L283.0,729.2L283.0,728.6L283.5,728.6L283.5,728.2L284.0,728.2L284.0,727.6L284.5,727.6L284.5,727.3L285.0,727.3L285.0,727.5L285.5,727.5L285.5,727.3L286.0,727.3L286.0,726.6L286.5,726.6L286.5,727.5L287.0,727.5L287.0,726.2L287.5,726.2L287.5,726.2L288.0,726.2L288.0,725.7L288.5,725.7L288.5,725.5L289.0,725.5L289.0,725.3L289.5,725.3L289.5,723.6L290.0,723.6L290.0,724.5L290.5,724.5L290.5,722.9L291.0,722.9L291.0,720.4L291.5,720.4L291.5,720.8L292.0,720.8L292.0,721.0L292.5,721.0L292.5,718.8L293.0,718.8L293.0,718.7L293.5,718.7L293.5,717.0L294.0,717.0L294.0,717.4L294.5,717.4L294.5,716.8L295.0,716.8L295.0,716.5L295.5,716.5L295.5,716.0L296.0,716.0L296.0,715.5L296.5,715.5L296.5,714.2L297.0,714.2L297.0,713.7L297.5,713.7L297.5,712.7L298.0,712.7L298.0,712.5L298.5,712.5L298.5,709.5L299.0,709.5L299.0,710.7L299.5,710.7L299.5,709.4L300.0,709.4L300.0,707.8L300.5,707.8L300.5,710.2L301.0,710.2L301.0,708.4L301.5,708.4L301.5,708.2L302.0,708.2L302.0,705.9L302.5,705.9L302.5,706.4L303.0,706.4L303.0,705.6L303.5,705.6L303.5,705.7L304.0,705.7L304.0,705.5L304.5,705.5L304.5,705.9L305.0,705.9L305.0,706.3L305.5,706.3L305.5,705.8L306.0,705.8L306.0,707.4L306.5,707.4L306.5,704.4L307.0,704.4L307.0,706.8L307.5,706.8L307.5,708.3L308.0,708.3L308.0,706.5L308.5,706.5L308.5,708.2L309.0,708.2L309.0,706.3L309.5,706.3L309.5,705.5L310.0,705.5L310.0,703.7L310.5,703.7L310.5,703.6L311.0,703.6L311.0,705.1L311.5,705.1L311.5,702.6L312.0,702.6L312.0,704.5L312.5,704.5L312.5,704.5L313.0,704.5L313.0,702.4L313.5,702.4L313.5,703.4L314.0,703.4L314.0,705.1L314.5,705.1L314.5,706.0L315.0,706.0L315.0,707.4L315.5,707.4L315.5,707.5L316.0,707.5L316.0,707.0L316.5,707.0L316.5,708.0L317.0,708.0L317.0,708.5L317.5,708.5L317.5,707.9L318.0,707.9L318.0,707.6L318.5,707.6L318.5,706.7L319.0,706.7L319.0,706.2L319.5,706.2L319.5,706.4L320.0,706.4L320.0,704.7L320.5,704.7L320.5,703.8L321.0,703.8L321.0,702.4L321.5,702.4L321.5,700.5L322.0,700.5L322.0,700.5L322.5,700.5L322.5,699.5L323.0,699.5L323.0,699.9L323.5,699.9L323.5,696.0L324.0,696.0L324.0,695.5L324.5,695.5L324.5,697.3L325.0,697.3L325.0,691.6L325.5,691.6L325.5,691.4L326.0,691.4L326.0,689.9L326.5,689.9L326.5,686.9L327.0,686.9L327.0,685.7L327.5,685.7L327.5,681.7L328.0,681.7L328.0,680.1L328.5,680.1L328.5,677.1L329.0,677.1L329.0,674.7L329.5,674.7L329.5,670.9L330.0,670.9L330.0,667.2L330.5,667.2L330.5,661.1L331.0,661.1L331.0,666.4L331.5,666.4L331.5,654.2L332.0,654.2L332.0,655.4L332.5,655.4L332.5,654.8L333.0,654.8L333.0,652.1L333.5,652.1L333.5,649.7L334.0,649.7L334.0,637.9L334.5,637.9L334.5,643.1L335.0,643.1L335.0,637.1L335.5,637.1L335.5,631.6L336.0,631.6L336.0,624.7L336.5,624.7L336.5,621.2L337.0,621.2L337.0,615.3L337.5,615.3L337.5,612.5L338.0,612.5L338.0,612.4L338.5,612.4L338.5,608.8L339.0,608.8L339.0,612.2L339.5,612.2L339.5,604.4L340.0,604.4L340.0,595.1L340.5,595.1L340.5,606.7L341.0,606.7L341.0,593.2L341.5,593.2L341.5,593.2L342.0,593.2L342.0,595.7L342.5,595.7L342.5,601.8L343.0,601.8L343.0,612.0L343.5,612.0L343.5,606.3L344.0,606.3L344.0,608.6L344.5,608.6L344.5,614.0L345.0,614.0L345.0,615.4L345.5,615.4L345.5,625.3L346.0,625.3L346.0,624.0L346.5,624.0L346.5,632.4L347.0,632.4L347.0,635.4L347.5,635.4L347.5,628.1L348.0,628.1L348.0,642.0L348.5,642.0L348.5,640.6L349.0,640.6L349.0,649.2L349.5,649.2L349.5,647.3L350.0,647.3L350.0,651.9L350.5,651.9L350.5,654.1L351.0,654.1L351.0,663.5L351.5,663.5L351.5,666.1L352.0,666.1L352.0,670.5L352.5,670.5L352.5,678.6L353.0,678.6L353.0,678.4L353.5,678.4L353.5,684.8L354.0,684.8L354.0,689.1L354.5,689.1L354.5,691.4L355.0,691.4L355.0,696.1L355.5,696.1L355.5,700.9L356.0,700.9L356.0,705.0L356.5,705.0L356.5,708.5L357.0,708.5L357.0,709.1L357.5,709.1L357.5,715.0L358.0,715.0L358.0,718.0L358.5,718.0L358.5,719.2L359.0,719.2L359.0,721.2L359.5,721.2L359.5,722.1L360.0,722.1L360.0,724.2L360.5,724.2L360.5,725.9L361.0,725.9L361.0,729.3L361.5,729.3L361.5,729.0L362.0,729.0L362.0,729.7L362.5,729.7L362.5,729.1L363.0,729.1L363.0,729.7L363.5,729.7L363.5,730.8L364.0,730.8L364.0,731.6L364.5,731.6L364.5,732.5L365.0,732.5L365.0,732.5L365.5,732.5L365.5,734.0L366.0,734.0L366.0,733.3L366.5,733.3L366.5,733.6L367.0,733.6L367.0,733.6L367.5,733.6L367.5,733.7L368.0,733.7L368.0,733.3L368.5,733.3L368.5,733.3L369.0,733.3L369.0,733.6L369.5,733.6L369.5,733.7L370.0,733.7L370.0,733.9L370.5,733.9L370.5,733.7L371.0,733.7L371.0,733.9L371.5,733.9L371.5,734.1L372.0,734.1L372.0,734.5L372.5,734.5L372.5,734.2L373.0,734.2L373.0,734.2L373.5,734.2L373.5,734.3L374.0,734.3L374.0,734.6L374.5,734.6L374.5,734.8L375.0,734.8L375.0,735.0L375.5,735.0L375.5,735.0L376.0,735.0L376.0,734.9L376.5,734.9L376.5,735.2L377.0,735.2L377.0,735.2L377.5,735.2L377.5,735.1L378.0,735.1L378.0,735.9L378.5,735.9L378.5,736.2Z" fill="#000"/>
<rect x="268.5" y="735.9" width="110.0" height="0.9" fill="#333"/>
<rect x="268.1" y="590.8" width="0.8" height="145.4" fill="#b4b4b4"/>
<rect x="268.1" y="694.8" width="0.9" height="41.4" fill="#858585"/>
<rect x="264.6" y="589.9" width="2.3" height="3.2" rx="0.7" fill="#222"/>
<rect x="264.6" y="604.4" width="2.3" height="3.2" rx="0.7" fill="#222"/>
<rect x="264.6" y="618.8" width="2.3" height="3.2" rx="0.7" fill="#222"/>
<rect x="264.6" y="633.3" width="2.3" height="3.2" rx="0.7" fill="#222"/>
<rect x="264.6" y="647.7" width="2.3" height="3.2" rx="0.7" fill="#222"/>
<rect x="264.6" y="662.2" width="2.3" height="3.2" rx="0.7" fill="#222"/>
<rect x="264.6" y="676.6" width="2.3" height="3.2" rx="0.7" fill="#222"/>
<rect x="264.6" y="691.1" width="2.3" height="3.2" rx="0.7" fill="#222"/>
<rect x="264.6" y="705.5" width="2.3" height="3.2" rx="0.7" fill="#222"/>
<rect x="264.6" y="720.0" width="2.3" height="3.2" rx="0.7" fill="#222"/>
<rect x="264.6" y="734.7" width="2.3" height="3.2" rx="0.7" fill="#222"/>
<path d="M292.1,741.2h3.4v0.9l-1.7,1.2l-1.7,-1.2z" fill="#000"/>
<path d="M319.6,741.2h3.4v0.9l-1.7,1.2l-1.7,-1.2z" fill="#000"/>
<path d="M347.1,741.2h3.4v0.9l-1.7,1.2l-1.7,-1.2z" fill="#000"/>
<path d="M374.6,741.2h3.4v0.9l-1.7,1.2l-1.7,-1.2z" fill="#000"/>
<text x="309.5" y="750.2" font-size="6.6" font-weight="bold" fill="#000" stroke="#000" stroke-width="0.25" textLength="36.0" lengthAdjust="spacingAndGlyphs">CD19 PE --&gt;</text>
<text transform="translate(265.3,660.7) rotate(-90)" x="0" y="0" font-size="7.8" font-weight="bold" fill="#000" text-anchor="middle" textLength="24.6" lengthAdjust="spacingAndGlyphs">Number</text>
<path d="M388.9,736.2L388.9,678.2L389.4,678.2L389.4,677.6L389.9,677.6L389.9,676.1L390.4,676.1L390.4,677.4L390.9,677.4L390.9,677.6L391.4,677.6L391.4,671.8L391.9,671.8L391.9,672.9L392.4,672.9L392.4,670.0L392.9,670.0L392.9,673.1L393.4,673.1L393.4,670.7L393.9,670.7L393.9,673.3L394.4,673.3L394.4,671.3L394.9,671.3L394.9,674.8L395.4,674.8L395.4,676.8L395.9,676.8L395.9,677.8L396.4,677.8L396.4,674.9L396.9,674.9L396.9,676.0L397.4,676.0L397.4,674.9L397.9,674.9L397.9,674.6L398.4,674.6L398.4,665.9L398.9,665.9L398.9,671.2L399.4,671.2L399.4,665.8L399.9,665.8L399.9,668.4L400.4,668.4L400.4,673.5L400.9,673.5L400.9,674.2L401.4,674.2L401.4,674.1L401.9,674.1L401.9,669.7L402.4,669.7L402.4,665.3L402.9,665.3L402.9,657.4L403.4,657.4L403.4,655.0L403.9,655.0L403.9,654.1L404.4,654.1L404.4,654.1L404.9,654.1L404.9,658.9L405.4,658.9L405.4,657.4L405.9,657.4L405.9,658.8L406.4,658.8L406.4,658.3L406.9,658.3L406.9,652.4L407.4,652.4L407.4,657.0L407.9,657.0L407.9,646.0L408.4,646.0L408.4,645.6L408.9,645.6L408.9,641.3L409.4,641.3L409.4,648.6L409.9,648.6L409.9,639.7L410.4,639.7L410.4,639.9L410.9,639.9L410.9,637.6L411.4,637.6L411.4,641.1L411.9,641.1L411.9,638.7L412.4,638.7L412.4,636.1L412.9,636.1L412.9,637.1L413.4,637.1L413.4,634.0L413.9,634.0L413.9,635.7L414.4,635.7L414.4,634.4L414.9,634.4L414.9,636.4L415.4,636.4L415.4,626.5L415.9,626.5L415.9,622.5L416.4,622.5L416.4,612.8L416.9,612.8L416.9,621.5L417.4,621.5L417.4,614.7L417.9,614.7L417.9,613.5L418.4,613.5L418.4,608.6L418.9,608.6L418.9,610.8L419.4,610.8L419.4,604.3L419.9,604.3L419.9,608.8L420.4,608.8L420.4,594.4L420.9,594.4L420.9,593.2L421.4,593.2L421.4,600.9L421.9,600.9L421.9,594.5L422.4,594.5L422.4,596.6L422.9,596.6L422.9,595.7L423.4,595.7L423.4,603.9L423.9,603.9L423.9,593.2L424.4,593.2L424.4,597.4L424.9,597.4L424.9,597.7L425.4,597.7L425.4,597.0L425.9,597.0L425.9,593.2L426.4,593.2L426.4,596.2L426.9,596.2L426.9,599.2L427.4,599.2L427.4,593.2L427.9,593.2L427.9,597.5L428.4,597.5L428.4,601.7L428.9,601.7L428.9,597.0L429.4,597.0L429.4,593.2L429.9,593.2L429.9,593.2L430.4,593.2L430.4,615.5L430.9,615.5L430.9,611.7L431.4,611.7L431.4,621.3L431.9,621.3L431.9,609.5L432.4,609.5L432.4,621.4L432.9,621.4L432.9,625.4L433.4,625.4L433.4,622.2L433.9,622.2L433.9,627.8L434.4,627.8L434.4,634.9L434.9,634.9L434.9,639.8L435.4,639.8L435.4,645.5L435.9,645.5L435.9,650.0L436.4,650.0L436.4,654.6L436.9,654.6L436.9,657.8L437.4,657.8L437.4,664.2L437.9,664.2L437.9,660.4L438.4,660.4L438.4,673.3L438.9,673.3L438.9,672.9L439.4,672.9L439.4,679.7L439.9,679.7L439.9,681.9L440.4,681.9L440.4,687.9L440.9,687.9L440.9,688.8L441.4,688.8L441.4,691.7L441.9,691.7L441.9,694.2L442.4,694.2L442.4,696.1L442.9,696.1L442.9,700.1L443.4,700.1L443.4,703.5L443.9,703.5L443.9,704.1L444.4,704.1L444.4,704.2L444.9,704.2L444.9,707.6L445.4,707.6L445.4,709.8L445.9,709.8L445.9,710.9L446.4,710.9L446.4,713.0L446.9,713.0L446.9,712.4L447.4,712.4L447.4,714.9L447.9,714.9L447.9,716.6L448.4,716.6L448.4,715.5L448.9,715.5L448.9,717.5L449.4,717.5L449.4,718.5L449.9,718.5L449.9,721.8L450.4,721.8L450.4,720.7L450.9,720.7L450.9,721.2L451.4,721.2L451.4,722.3L451.9,722.3L451.9,723.3L452.4,723.3L452.4,723.9L452.9,723.9L452.9,724.6L453.4,724.6L453.4,725.0L453.9,725.0L453.9,724.9L454.4,724.9L454.4,725.3L454.9,725.3L454.9,725.4L455.4,725.4L455.4,727.1L455.9,727.1L455.9,726.4L456.4,726.4L456.4,726.7L456.9,726.7L456.9,727.8L457.4,727.8L457.4,727.3L457.9,727.3L457.9,727.4L458.4,727.4L458.4,728.1L458.9,728.1L458.9,729.7L459.4,729.7L459.4,728.5L459.9,728.5L459.9,730.2L460.4,730.2L460.4,730.0L460.9,730.0L460.9,730.5L461.4,730.5L461.4,730.6L461.9,730.6L461.9,730.3L462.4,730.3L462.4,730.8L462.9,730.8L462.9,731.2L463.4,731.2L463.4,731.6L463.9,731.6L463.9,731.6L464.4,731.6L464.4,732.1L464.9,732.1L464.9,732.2L465.4,732.2L465.4,733.6L465.9,733.6L465.9,733.0L466.4,733.0L466.4,732.9L466.9,732.9L466.9,734.1L467.4,734.1L467.4,732.7L467.9,732.7L467.9,732.7L468.4,732.7L468.4,733.2L468.9,733.2L468.9,733.1L469.4,733.1L469.4,732.6L469.9,732.6L469.9,733.0L470.4,733.0L470.4,734.0L470.9,734.0L470.9,733.7L471.4,733.7L471.4,733.2L471.9,733.2L471.9,733.3L472.4,733.3L472.4,733.8L472.9,733.8L472.9,733.8L473.4,733.8L473.4,733.7L473.9,733.7L473.9,733.6L474.4,733.6L474.4,734.2L474.9,734.2L474.9,734.2L475.4,734.2L475.4,734.1L475.9,734.1L475.9,733.7L476.4,733.7L476.4,733.8L476.9,733.8L476.9,734.4L477.4,734.4L477.4,733.2L477.9,733.2L477.9,734.5L478.4,734.5L478.4,734.9L478.9,734.9L478.9,733.3L479.4,733.3L479.4,733.7L479.9,733.7L479.9,734.4L480.4,734.4L480.4,734.6L480.9,734.6L480.9,734.8L481.4,734.8L481.4,734.7L481.9,734.7L481.9,734.7L482.4,734.7L482.4,733.6L482.9,733.6L482.9,734.3L483.4,734.3L483.4,734.4L483.9,734.4L483.9,735.4L484.4,735.4L484.4,734.4L484.9,734.4L484.9,734.9L485.4,734.9L485.4,735.5L485.9,735.5L485.9,735.0L486.4,735.0L486.4,735.0L486.9,735.0L486.9,734.5L487.4,734.5L487.4,734.6L487.9,734.6L487.9,734.7L488.4,734.7L488.4,735.0L488.9,735.0L488.9,735.2L489.4,735.2L489.4,735.0L489.9,735.0L489.9,734.4L490.4,734.4L490.4,734.9L490.9,734.9L490.9,735.2L491.4,735.2L491.4,735.2L491.9,735.2L491.9,734.7L492.4,734.7L492.4,734.1L492.9,734.1L492.9,734.6L493.4,734.6L493.4,735.9L493.9,735.9L493.9,734.7L494.4,734.7L494.4,734.8L494.9,734.8L494.9,735.3L495.4,735.3L495.4,735.3L495.9,735.3L495.9,735.9L496.4,735.9L496.4,735.4L496.9,735.4L496.9,735.9L497.4,735.9L497.4,735.2L497.9,735.2L497.9,735.3L498.4,735.3L498.4,735.3L498.9,735.3L498.5,736.2Z" fill="#000"/>
<rect x="388.9" y="735.9" width="109.6" height="0.9" fill="#333"/>
<rect x="388.5" y="588.0" width="0.8" height="148.2" fill="#b4b4b4"/>
<rect x="388.4" y="649.6" width="0.9" height="86.6" fill="#858585"/>
<rect x="385.2" y="584.2" width="2.3" height="3.2" rx="0.7" fill="#222"/>
<rect x="385.2" y="605.7" width="2.3" height="3.2" rx="0.7" fill="#222"/>
<rect x="385.2" y="627.3" width="2.3" height="3.2" rx="0.7" fill="#222"/>
<rect x="385.2" y="648.9" width="2.3" height="3.2" rx="0.7" fill="#222"/>
<rect x="385.2" y="670.4" width="2.3" height="3.2" rx="0.7" fill="#222"/>
<rect x="385.2" y="691.9" width="2.3" height="3.2" rx="0.7" fill="#222"/>
<rect x="385.2" y="713.5" width="2.3" height="3.2" rx="0.7" fill="#222"/>
<rect x="385.2" y="734.7" width="2.3" height="3.2" rx="0.7" fill="#222"/>
<path d="M412.8,741.2h3.4v0.9l-1.7,1.2l-1.7,-1.2z" fill="#000"/>
<path d="M440.8,741.2h3.4v0.9l-1.7,1.2l-1.7,-1.2z" fill="#000"/>
<path d="M467.8,741.2h3.4v0.9l-1.7,1.2l-1.7,-1.2z" fill="#000"/>
<path d="M495.3,741.2h3.4v0.9l-1.7,1.2l-1.7,-1.2z" fill="#000"/>
<text x="425.0" y="750.2" font-size="6.6" font-weight="bold" fill="#000" stroke="#000" stroke-width="0.25" textLength="47.0" lengthAdjust="spacingAndGlyphs">CD34 PerCP --&gt;</text>
<text transform="translate(384.4,660.7) rotate(-90)" x="0" y="0" font-size="7.8" font-weight="bold" fill="#000" text-anchor="middle" textLength="24.6" lengthAdjust="spacingAndGlyphs">Number</text>
<rect x="135.8" y="565.8" width="0.9" height="5.5" fill="#333"/>
</svg></body></html>
